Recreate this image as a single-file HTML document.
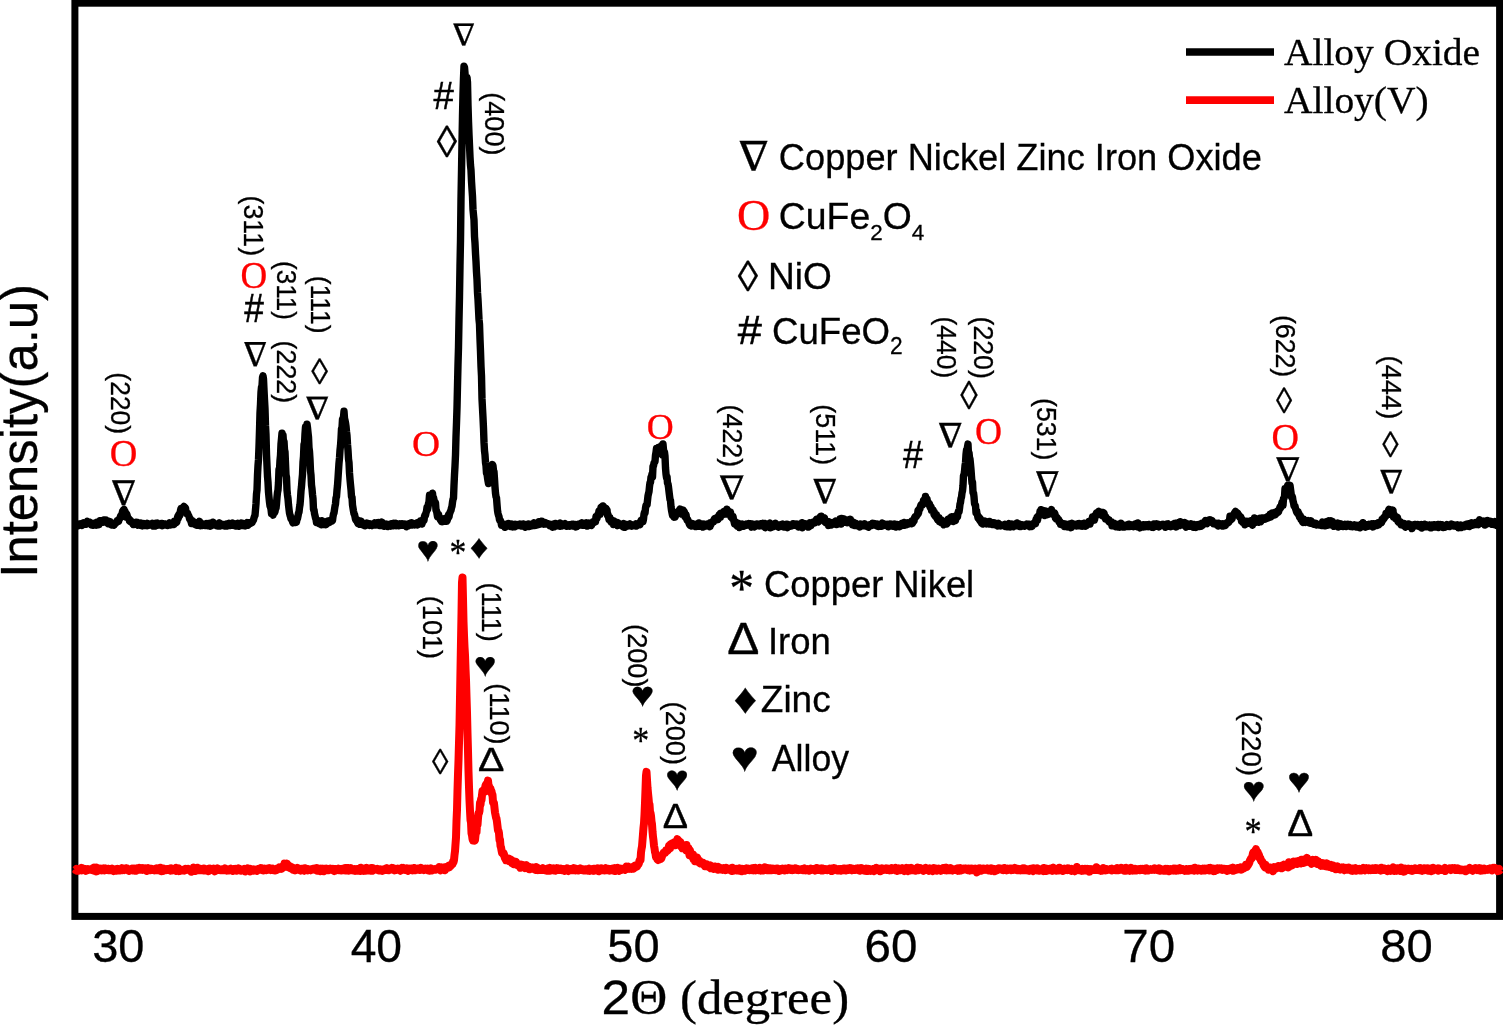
<!DOCTYPE html>
<html lang="en"><head><meta charset="utf-8"><title>XRD patterns</title>
<style>html,body{margin:0;padding:0;background:#fff;overflow:hidden}svg{display:block}</style></head>
<body>
<svg width="1503" height="1026" viewBox="0 0 1503 1026" style="display:block">
<rect width="1503" height="1026" fill="#fff"/>
<rect x="74.9" y="3.2" width="1424.7" height="913.2" fill="none" stroke="#000" stroke-width="7"/>
<path d="M74.5,524.7 75.0,525.0 75.5,524.5 76.0,523.9 76.5,524.3 77.0,523.8 77.5,524.8 78.0,525.9 78.5,524.3 79.0,524.1 79.5,525.1 80.0,525.0 80.5,524.8 81.0,523.9 81.5,524.7 82.0,525.3 82.5,523.4 83.0,524.2 83.5,522.8 84.0,523.3 84.5,522.8 85.0,524.1 85.5,523.0 86.0,524.3 86.5,524.1 87.0,523.6 87.5,521.3 88.0,523.1 88.5,523.5 89.0,523.6 89.5,522.0 90.0,523.1 90.5,522.7 91.0,523.0 91.5,524.9 92.0,523.3 92.5,524.1 93.0,525.1 93.5,523.7 94.0,524.2 94.5,524.4 95.0,524.3 95.5,523.0 96.0,524.1 96.5,525.2 97.0,522.2 97.5,524.3 98.0,523.3 98.5,522.3 99.0,524.7 99.5,523.1 100.0,520.7 100.5,521.8 101.0,522.0 101.5,520.9 102.0,521.6 102.5,520.7 103.0,521.4 103.5,522.2 104.0,519.9 104.5,520.9 105.0,520.3 105.5,521.2 106.0,520.0 106.5,521.0 107.0,521.7 107.5,523.1 108.0,523.6 108.5,521.4 109.0,522.2 109.5,523.9 110.0,521.5 110.5,523.2 111.0,523.7 111.5,525.0 112.0,524.5 112.5,523.6 113.0,523.5 113.5,523.6 114.0,525.2 114.5,523.2 115.0,523.1 115.5,523.5 116.0,522.7 116.5,522.3 117.0,520.9 117.5,521.5 118.0,520.4 118.5,521.5 119.0,520.1 119.5,518.5 120.0,518.4 120.5,516.2 121.0,517.1 121.5,514.8 122.0,514.8 122.5,511.5 123.0,513.2 123.5,509.9 124.0,509.3 124.5,511.9 125.0,511.4 125.5,513.5 126.0,517.1 126.5,513.7 127.0,514.9 127.5,516.9 128.0,518.2 128.5,518.3 129.0,519.1 129.5,520.9 130.0,521.4 130.5,520.4 131.0,521.9 131.5,522.5 132.0,521.8 132.5,523.4 133.0,522.6 133.5,524.6 134.0,524.0 134.5,524.0 135.0,523.5 135.5,524.0 136.0,522.3 136.5,523.2 137.0,524.6 137.5,522.4 138.0,525.2 138.5,522.8 139.0,525.1 139.5,523.7 140.0,525.2 140.5,524.6 141.0,523.1 141.5,525.6 142.0,525.8 142.5,524.5 143.0,524.3 143.5,524.4 144.0,523.6 144.5,525.6 145.0,524.1 145.5,524.5 146.0,523.8 146.5,524.0 147.0,523.4 147.5,525.7 148.0,524.4 148.5,525.5 149.0,524.6 149.5,524.0 150.0,524.3 150.5,524.1 151.0,524.6 151.5,524.2 152.0,524.3 152.5,523.3 153.0,523.9 153.5,526.1 154.0,524.0 154.5,523.6 155.0,524.9 155.5,525.9 156.0,523.2 156.5,524.4 157.0,524.0 157.5,523.0 158.0,525.2 158.5,524.5 159.0,524.6 159.5,523.9 160.0,525.0 160.5,524.0 161.0,524.4 161.5,523.5 162.0,523.4 162.5,525.7 163.0,524.0 163.5,524.7 164.0,524.4 164.5,524.0 165.0,524.0 165.5,525.0 166.0,524.1 166.5,524.2 167.0,524.4 167.5,525.4 168.0,524.9 168.5,524.6 169.0,523.7 169.5,522.9 170.0,525.0 170.5,525.0 171.0,523.8 171.5,524.4 172.0,524.5 172.5,524.4 173.0,524.3 173.5,522.7 174.0,524.4 174.5,521.3 175.0,523.0 175.5,522.2 176.0,522.0 176.5,522.5 177.0,521.4 177.5,517.5 178.0,515.9 178.5,518.0 179.0,514.6 179.5,514.9 180.0,515.0 180.5,510.4 181.0,508.6 181.5,511.2 182.0,510.1 182.5,509.0 183.0,509.0 183.5,507.4 184.0,506.5 184.5,508.9 185.0,508.2 185.5,508.0 186.0,512.1 186.5,512.2 187.0,513.9 187.5,513.1 188.0,514.7 188.5,515.3 189.0,516.5 189.5,518.7 190.0,518.4 190.5,520.5 191.0,521.2 191.5,523.6 192.0,520.5 192.5,523.3 193.0,522.7 193.5,523.0 194.0,521.9 194.5,523.1 195.0,524.4 195.5,523.8 196.0,524.0 196.5,523.8 197.0,525.2 197.5,524.2 198.0,522.2 198.5,523.6 199.0,522.5 199.5,521.3 200.0,523.9 200.5,525.6 201.0,524.4 201.5,523.3 202.0,523.6 202.5,525.5 203.0,524.6 203.5,524.5 204.0,524.4 204.5,524.5 205.0,525.3 205.5,525.0 206.0,524.7 206.5,523.6 207.0,525.0 207.5,523.9 208.0,525.6 208.5,523.4 209.0,524.4 209.5,524.6 210.0,523.4 210.5,526.2 211.0,525.9 211.5,524.2 212.0,525.3 212.5,524.9 213.0,522.2 213.5,524.8 214.0,524.6 214.5,524.7 215.0,523.6 215.5,524.4 216.0,524.5 216.5,525.7 217.0,524.9 217.5,524.6 218.0,526.0 218.5,524.1 219.0,524.3 219.5,522.9 220.0,526.1 220.5,525.5 221.0,525.5 221.5,525.2 222.0,524.7 222.5,524.8 223.0,524.4 223.5,524.4 224.0,524.7 224.5,526.0 225.0,525.1 225.5,524.5 226.0,524.1 226.5,524.0 227.0,526.1 227.5,525.0 228.0,524.6 228.5,524.2 229.0,523.5 229.5,524.5 230.0,525.4 230.5,524.2 231.0,524.3 231.5,524.3 232.0,524.6 232.5,523.0 233.0,524.3 233.5,523.7 234.0,525.3 234.5,523.8 235.0,525.0 235.5,525.9 236.0,524.2 236.5,523.9 237.0,524.6 237.5,524.4 238.0,523.5 238.5,524.8 239.0,526.2 239.5,524.1 240.0,524.1 240.5,523.3 241.0,524.6 241.5,523.1 242.0,523.2 242.5,525.4 243.0,523.3 243.5,525.2 244.0,525.6 244.5,524.3 245.0,524.6 245.5,525.9 246.0,523.8 246.5,523.3 247.0,522.6 247.5,523.8 248.0,525.2 248.5,524.6 249.0,522.7 249.5,522.6 250.0,522.9 250.5,523.5 251.0,522.8 251.5,522.9 252.0,522.6 252.5,521.3 253.0,520.8 253.5,519.9 254.0,517.9 254.5,516.4 255.0,515.4 255.5,509.6 256.0,503.7 256.5,493.9 257.0,490.1 257.5,475.4 258.0,465.6 258.5,459.5 259.0,446.3 259.5,430.5 260.0,412.7 260.5,404.1 261.0,392.2 261.5,387.2 262.0,386.0 262.5,377.6 263.0,375.8 263.5,379.1 264.0,389.9 264.5,399.6 265.0,408.6 265.5,425.2 266.0,434.7 266.5,454.1 267.0,465.7 267.5,476.4 268.0,482.2 268.5,492.2 269.0,497.3 269.5,502.0 270.0,505.9 270.5,507.2 271.0,509.0 271.5,513.6 272.0,513.0 272.5,514.0 273.0,515.2 273.5,511.2 274.0,512.0 274.5,512.6 275.0,511.6 275.5,508.7 276.0,508.4 276.5,503.8 277.0,497.1 277.5,492.4 278.0,490.0 278.5,482.6 279.0,469.5 279.5,469.9 280.0,460.3 280.5,455.3 281.0,443.8 281.5,439.0 282.0,433.1 282.5,442.3 283.0,435.1 283.5,443.0 284.0,441.2 284.5,449.7 285.0,451.8 285.5,463.3 286.0,474.8 286.5,477.4 287.0,490.1 287.5,495.2 288.0,498.6 288.5,504.8 289.0,509.1 289.5,513.1 290.0,515.1 290.5,516.8 291.0,519.0 291.5,519.3 292.0,519.8 292.5,521.6 293.0,522.9 293.5,520.6 294.0,522.2 294.5,521.5 295.0,520.9 295.5,522.5 296.0,520.5 296.5,522.1 297.0,518.5 297.5,518.6 298.0,516.1 298.5,513.1 299.0,512.2 299.5,507.6 300.0,504.7 300.5,498.7 301.0,490.9 301.5,486.5 302.0,479.8 302.5,474.7 303.0,462.2 303.5,456.7 304.0,444.5 304.5,444.5 305.0,433.7 305.5,427.0 306.0,429.0 306.5,431.1 307.0,424.1 307.5,427.7 308.0,432.7 308.5,436.9 309.0,447.8 309.5,451.6 310.0,459.6 310.5,470.8 311.0,475.1 311.5,485.1 312.0,488.7 312.5,494.4 313.0,498.7 313.5,509.5 314.0,509.7 314.5,513.6 315.0,515.7 315.5,517.9 316.0,519.3 316.5,522.5 317.0,520.1 317.5,520.2 318.0,521.3 318.5,521.3 319.0,523.6 319.5,523.9 320.0,522.2 320.5,521.9 321.0,523.0 321.5,524.7 322.0,520.6 322.5,523.9 323.0,522.4 323.5,524.4 324.0,522.3 324.5,523.1 325.0,521.9 325.5,522.4 326.0,524.7 326.5,524.1 327.0,522.8 327.5,522.2 328.0,521.1 328.5,522.4 329.0,522.6 329.5,522.3 330.0,521.9 330.5,520.4 331.0,520.9 331.5,520.2 332.0,520.9 332.5,520.5 333.0,516.6 333.5,514.0 334.0,512.9 334.5,509.5 335.0,506.3 335.5,503.9 336.0,498.1 336.5,496.7 337.0,490.2 337.5,485.4 338.0,478.3 338.5,470.5 339.0,463.1 339.5,458.0 340.0,450.2 340.5,445.7 341.0,438.5 341.5,428.7 342.0,427.6 342.5,419.3 343.0,418.2 343.5,417.1 344.0,411.3 344.5,418.2 345.0,420.4 345.5,422.7 346.0,426.2 346.5,431.6 347.0,435.8 347.5,444.3 348.0,450.3 348.5,459.0 349.0,462.5 349.5,473.0 350.0,479.2 350.5,484.6 351.0,489.6 351.5,496.7 352.0,497.1 352.5,505.0 353.0,508.1 353.5,511.1 354.0,513.7 354.5,514.4 355.0,516.7 355.5,519.2 356.0,520.1 356.5,520.8 357.0,519.6 357.5,522.4 358.0,523.5 358.5,523.7 359.0,523.2 359.5,521.6 360.0,524.3 360.5,523.4 361.0,521.1 361.5,524.1 362.0,522.3 362.5,522.6 363.0,523.3 363.5,525.2 364.0,523.7 364.5,524.3 365.0,525.8 365.5,525.7 366.0,524.1 366.5,524.0 367.0,523.0 367.5,523.6 368.0,524.7 368.5,524.7 369.0,524.4 369.5,525.3 370.0,523.7 370.5,524.4 371.0,525.1 371.5,525.0 372.0,525.5 372.5,524.8 373.0,524.2 373.5,524.8 374.0,523.6 374.5,523.0 375.0,525.1 375.5,524.5 376.0,524.8 376.5,523.0 377.0,524.2 377.5,524.0 378.0,523.8 378.5,522.5 379.0,524.3 379.5,525.5 380.0,525.0 380.5,524.1 381.0,524.6 381.5,525.4 382.0,522.1 382.5,524.5 383.0,525.2 383.5,525.3 384.0,526.2 384.5,525.7 385.0,525.0 385.5,525.0 386.0,525.4 386.5,524.2 387.0,524.7 387.5,525.5 388.0,526.5 388.5,524.6 389.0,524.7 389.5,524.9 390.0,526.0 390.5,524.7 391.0,526.1 391.5,523.8 392.0,524.5 392.5,524.5 393.0,525.4 393.5,525.7 394.0,523.3 394.5,523.9 395.0,525.0 395.5,524.1 396.0,523.3 396.5,525.7 397.0,525.2 397.5,525.2 398.0,524.3 398.5,525.6 399.0,524.5 399.5,525.7 400.0,523.8 400.5,523.9 401.0,524.9 401.5,524.0 402.0,525.3 402.5,524.9 403.0,523.8 403.5,524.7 404.0,524.3 404.5,525.5 405.0,524.0 405.5,524.2 406.0,525.7 406.5,526.7 407.0,526.4 407.5,524.6 408.0,524.7 408.5,525.9 409.0,524.4 409.5,523.6 410.0,524.6 410.5,524.9 411.0,523.6 411.5,522.8 412.0,523.0 412.5,525.0 413.0,523.6 413.5,524.1 414.0,524.4 414.5,524.8 415.0,523.8 415.5,524.6 416.0,523.2 416.5,523.6 417.0,522.9 417.5,524.9 418.0,523.6 418.5,522.8 419.0,523.0 419.5,522.9 420.0,523.6 420.5,520.9 421.0,521.1 421.5,521.4 422.0,524.0 422.5,521.6 423.0,519.7 423.5,519.7 424.0,520.4 424.5,516.3 425.0,514.8 425.5,515.4 426.0,512.8 426.5,511.3 427.0,507.6 427.5,509.6 428.0,507.4 428.5,503.5 429.0,501.9 429.5,495.2 430.0,498.8 430.5,496.1 431.0,496.6 431.5,496.9 432.0,495.1 432.5,493.2 433.0,498.3 433.5,497.6 434.0,500.1 434.5,501.5 435.0,503.9 435.5,502.7 436.0,510.3 436.5,510.7 437.0,513.7 437.5,516.5 438.0,515.3 438.5,514.3 439.0,516.7 439.5,517.3 440.0,518.9 440.5,520.2 441.0,518.4 441.5,521.4 442.0,519.6 442.5,521.7 443.0,521.3 443.5,521.0 444.0,521.1 444.5,520.3 445.0,519.9 445.5,518.2 446.0,519.7 446.5,521.3 447.0,520.9 447.5,519.3 448.0,517.7 448.5,514.9 449.0,516.8 449.5,513.7 450.0,512.6 450.5,511.1 451.0,510.3 451.5,507.8 452.0,506.3 452.5,502.2 453.0,499.3 453.5,498.2 454.0,485.1 454.5,474.9 455.0,466.0 455.5,455.2 456.0,436.7 456.5,423.1 457.0,407.8 457.5,385.9 458.0,364.5 458.5,347.3 459.0,319.6 459.5,296.6 460.0,266.0 460.5,240.7 461.0,198.7 461.5,172.0 462.0,142.2 462.5,116.4 463.0,94.0 463.5,78.1 464.0,66.1 464.5,67.3 465.0,73.1 465.5,80.1 466.0,82.7 466.5,80.0 467.0,77.5 467.5,82.4 468.0,105.4 468.5,121.3 469.0,134.5 469.5,145.4 470.0,156.8 470.5,165.2 471.0,170.1 471.5,181.1 472.0,189.0 472.5,196.4 473.0,209.5 473.5,214.8 474.0,219.8 474.5,236.5 475.0,243.1 475.5,253.4 476.0,261.6 476.5,272.2 477.0,279.6 477.5,292.4 478.0,299.6 478.5,309.2 479.0,319.3 479.5,324.2 480.0,339.1 480.5,351.4 481.0,366.3 481.5,376.0 482.0,398.9 482.5,408.4 483.0,417.8 483.5,428.2 484.0,442.4 484.5,450.8 485.0,454.9 485.5,462.6 486.0,465.8 486.5,473.3 487.0,473.7 487.5,477.6 488.0,480.9 488.5,483.6 489.0,472.7 489.5,471.3 490.0,468.5 490.5,471.5 491.0,465.7 491.5,466.6 492.0,467.2 492.5,464.6 493.0,465.9 493.5,470.6 494.0,471.7 494.5,479.0 495.0,487.0 495.5,493.2 496.0,496.6 496.5,497.8 497.0,504.4 497.5,510.3 498.0,513.4 498.5,515.4 499.0,516.5 499.5,519.9 500.0,520.0 500.5,520.7 501.0,522.1 501.5,525.1 502.0,524.3 502.5,525.4 503.0,524.1 503.5,525.6 504.0,524.3 504.5,524.8 505.0,527.3 505.5,525.8 506.0,524.7 506.5,525.0 507.0,525.4 507.5,526.2 508.0,524.7 508.5,523.5 509.0,524.9 509.5,525.1 510.0,525.2 510.5,526.3 511.0,525.4 511.5,525.9 512.0,524.1 512.5,525.9 513.0,527.0 513.5,525.8 514.0,525.4 514.5,525.3 515.0,526.8 515.5,524.3 516.0,525.0 516.5,525.6 517.0,525.8 517.5,524.7 518.0,525.4 518.5,524.9 519.0,525.3 519.5,525.0 520.0,524.1 520.5,525.1 521.0,525.9 521.5,524.3 522.0,524.9 522.5,525.8 523.0,524.2 523.5,525.3 524.0,524.2 524.5,526.2 525.0,527.2 525.5,527.0 526.0,525.0 526.5,525.8 527.0,525.3 527.5,525.2 528.0,526.5 528.5,523.9 529.0,526.1 529.5,525.1 530.0,526.4 530.5,525.3 531.0,524.5 531.5,525.3 532.0,525.7 532.5,525.0 533.0,525.3 533.5,524.3 534.0,522.8 534.5,525.5 535.0,525.2 535.5,524.5 536.0,524.3 536.5,525.1 537.0,523.5 537.5,523.0 538.0,523.4 538.5,524.6 539.0,521.8 539.5,524.3 540.0,522.3 540.5,521.7 541.0,524.0 541.5,522.6 542.0,521.3 542.5,522.3 543.0,523.7 543.5,524.0 544.0,522.5 544.5,523.5 545.0,523.9 545.5,522.7 546.0,523.9 546.5,523.7 547.0,523.4 547.5,523.6 548.0,524.3 548.5,524.4 549.0,524.0 549.5,524.2 550.0,525.8 550.5,525.0 551.0,525.7 551.5,526.1 552.0,525.5 552.5,527.1 553.0,524.3 553.5,525.8 554.0,524.8 554.5,526.8 555.0,526.7 555.5,523.4 556.0,524.3 556.5,525.7 557.0,525.9 557.5,525.8 558.0,525.1 558.5,525.6 559.0,525.7 559.5,525.1 560.0,526.1 560.5,523.1 561.0,525.7 561.5,524.2 562.0,526.0 562.5,524.9 563.0,524.3 563.5,525.5 564.0,524.3 564.5,524.3 565.0,523.7 565.5,525.1 566.0,525.6 566.5,526.1 567.0,525.0 567.5,526.1 568.0,525.1 568.5,525.0 569.0,525.6 569.5,526.1 570.0,524.8 570.5,524.9 571.0,524.9 571.5,525.2 572.0,524.3 572.5,526.0 573.0,524.7 573.5,525.5 574.0,524.3 574.5,525.4 575.0,525.4 575.5,524.7 576.0,526.9 576.5,525.4 577.0,526.6 577.5,525.9 578.0,524.4 578.5,524.6 579.0,525.4 579.5,525.0 580.0,525.0 580.5,524.7 581.0,523.3 581.5,524.7 582.0,522.9 582.5,525.2 583.0,524.2 583.5,524.2 584.0,524.6 584.5,525.1 585.0,523.5 585.5,523.1 586.0,523.7 586.5,522.8 587.0,523.8 587.5,526.1 588.0,523.6 588.5,525.1 589.0,523.1 589.5,524.6 590.0,523.9 590.5,524.0 591.0,524.4 591.5,525.4 592.0,523.6 592.5,523.2 593.0,521.7 593.5,522.9 594.0,521.6 594.5,522.2 595.0,520.6 595.5,521.9 596.0,516.7 596.5,517.9 597.0,518.4 597.5,515.8 598.0,514.1 598.5,513.8 599.0,511.0 599.5,512.1 600.0,514.5 600.5,511.7 601.0,507.3 601.5,506.9 602.0,507.1 602.5,509.0 603.0,505.9 603.5,506.3 604.0,509.2 604.5,509.7 605.0,508.4 605.5,508.2 606.0,508.5 606.5,510.9 607.0,509.8 607.5,515.2 608.0,514.4 608.5,516.9 609.0,519.7 609.5,519.7 610.0,517.7 610.5,520.9 611.0,522.0 611.5,520.5 612.0,520.8 612.5,522.2 613.0,521.1 613.5,524.6 614.0,521.0 614.5,522.6 615.0,523.6 615.5,523.8 616.0,524.4 616.5,524.6 617.0,524.2 617.5,525.6 618.0,522.6 618.5,524.6 619.0,524.0 619.5,524.9 620.0,525.0 620.5,524.0 621.0,524.2 621.5,525.6 622.0,525.2 622.5,524.3 623.0,526.8 623.5,527.1 624.0,523.6 624.5,525.3 625.0,527.3 625.5,525.7 626.0,525.2 626.5,524.8 627.0,524.5 627.5,524.9 628.0,524.6 628.5,525.8 629.0,524.7 629.5,524.7 630.0,524.0 630.5,525.1 631.0,524.3 631.5,525.0 632.0,526.1 632.5,525.5 633.0,525.6 633.5,525.5 634.0,525.2 634.5,525.0 635.0,524.8 635.5,525.7 636.0,523.9 636.5,526.1 637.0,524.7 637.5,523.8 638.0,523.9 638.5,523.5 639.0,524.2 639.5,523.1 640.0,524.7 640.5,522.5 641.0,520.5 641.5,521.7 642.0,519.8 642.5,521.3 643.0,521.4 643.5,519.1 644.0,514.1 644.5,512.1 645.0,513.1 645.5,508.2 646.0,505.3 646.5,504.8 647.0,505.0 647.5,500.5 648.0,495.8 648.5,493.7 649.0,491.7 649.5,486.5 650.0,482.7 650.5,482.3 651.0,477.2 651.5,476.4 652.0,474.0 652.5,477.0 653.0,466.4 653.5,465.8 654.0,463.1 654.5,462.2 655.0,461.5 655.5,455.1 656.0,452.4 656.5,448.5 657.0,449.2 657.5,452.3 658.0,450.4 658.5,447.5 659.0,449.6 659.5,451.0 660.0,452.6 660.5,449.6 661.0,450.5 661.5,445.7 662.0,447.3 662.5,455.1 663.0,444.0 663.5,449.7 664.0,452.4 664.5,452.3 665.0,456.3 665.5,467.9 666.0,474.0 666.5,477.6 667.0,476.5 667.5,483.1 668.0,483.9 668.5,487.1 669.0,491.5 669.5,495.5 670.0,499.5 670.5,500.6 671.0,506.6 671.5,510.3 672.0,512.9 672.5,515.3 673.0,514.4 673.5,515.2 674.0,517.2 674.5,514.8 675.0,517.1 675.5,515.8 676.0,515.2 676.5,512.3 677.0,512.4 677.5,512.8 678.0,513.4 678.5,512.8 679.0,510.5 679.5,510.0 680.0,509.1 680.5,511.1 681.0,510.4 681.5,512.0 682.0,514.1 682.5,511.8 683.0,510.0 683.5,511.5 684.0,511.3 684.5,512.4 685.0,516.6 685.5,515.8 686.0,514.4 686.5,518.2 687.0,520.1 687.5,519.3 688.0,520.1 688.5,521.6 689.0,523.3 689.5,524.4 690.0,525.3 690.5,525.6 691.0,525.7 691.5,526.0 692.0,525.5 692.5,523.6 693.0,525.0 693.5,525.5 694.0,524.9 694.5,526.1 695.0,525.0 695.5,524.5 696.0,526.6 696.5,525.9 697.0,525.5 697.5,526.1 698.0,526.3 698.5,525.6 699.0,523.0 699.5,524.7 700.0,524.9 700.5,524.4 701.0,525.5 701.5,526.4 702.0,524.8 702.5,524.2 703.0,527.1 703.5,524.8 704.0,524.1 704.5,525.4 705.0,525.6 705.5,524.5 706.0,525.9 706.5,524.6 707.0,524.2 707.5,525.1 708.0,525.5 708.5,524.1 709.0,524.8 709.5,524.1 710.0,526.7 710.5,522.8 711.0,524.5 711.5,522.5 712.0,521.9 712.5,522.3 713.0,521.9 713.5,521.8 714.0,520.2 714.5,518.6 715.0,518.3 715.5,519.2 716.0,519.0 716.5,519.8 717.0,518.4 717.5,519.0 718.0,519.4 718.5,517.4 719.0,514.9 719.5,514.8 720.0,513.8 720.5,517.3 721.0,513.3 721.5,515.5 722.0,513.9 722.5,515.0 723.0,513.5 723.5,511.6 724.0,511.3 724.5,511.7 725.0,511.8 725.5,510.8 726.0,511.6 726.5,514.1 727.0,509.2 727.5,512.1 728.0,510.5 728.5,512.3 729.0,513.6 729.5,512.8 730.0,514.6 730.5,512.1 731.0,516.8 731.5,515.5 732.0,518.1 732.5,518.6 733.0,516.3 733.5,519.5 734.0,521.4 734.5,523.6 735.0,522.9 735.5,523.4 736.0,522.2 736.5,525.4 737.0,526.0 737.5,524.5 738.0,524.4 738.5,523.3 739.0,525.7 739.5,527.5 740.0,525.7 740.5,526.2 741.0,525.6 741.5,524.2 742.0,526.4 742.5,524.0 743.0,525.0 743.5,525.4 744.0,526.0 744.5,525.6 745.0,525.6 745.5,524.5 746.0,524.1 746.5,525.3 747.0,524.6 747.5,524.1 748.0,524.1 748.5,524.8 749.0,523.6 749.5,524.1 750.0,523.8 750.5,525.5 751.0,525.7 751.5,527.1 752.0,523.9 752.5,524.7 753.0,526.1 753.5,525.1 754.0,525.0 754.5,526.9 755.0,525.0 755.5,524.3 756.0,524.1 756.5,525.6 757.0,525.6 757.5,524.1 758.0,524.4 758.5,525.8 759.0,525.9 759.5,524.8 760.0,525.9 760.5,525.9 761.0,523.7 761.5,525.1 762.0,525.7 762.5,524.8 763.0,523.4 763.5,525.1 764.0,526.0 764.5,526.8 765.0,523.4 765.5,527.7 766.0,524.3 766.5,526.2 767.0,526.5 767.5,526.3 768.0,525.5 768.5,524.3 769.0,525.9 769.5,524.7 770.0,523.1 770.5,527.9 771.0,526.0 771.5,527.0 772.0,524.5 772.5,526.7 773.0,526.8 773.5,526.8 774.0,525.4 774.5,524.3 775.0,525.2 775.5,523.4 776.0,523.8 776.5,525.5 777.0,524.5 777.5,525.2 778.0,525.3 778.5,527.1 779.0,526.6 779.5,525.3 780.0,526.5 780.5,524.7 781.0,525.1 781.5,526.2 782.0,524.2 782.5,525.1 783.0,524.2 783.5,525.5 784.0,526.9 784.5,524.7 785.0,525.6 785.5,524.6 786.0,524.3 786.5,524.2 787.0,526.7 787.5,527.5 788.0,525.8 788.5,524.7 789.0,526.0 789.5,525.1 790.0,526.1 790.5,525.6 791.0,525.6 791.5,525.9 792.0,524.8 792.5,525.0 793.0,523.8 793.5,524.9 794.0,524.0 794.5,525.2 795.0,524.5 795.5,525.4 796.0,525.7 796.5,524.0 797.0,524.6 797.5,524.4 798.0,526.0 798.5,526.9 799.0,526.1 799.5,525.0 800.0,526.6 800.5,523.9 801.0,526.6 801.5,524.7 802.0,522.7 802.5,527.7 803.0,526.7 803.5,524.3 804.0,525.4 804.5,525.0 805.0,525.3 805.5,523.8 806.0,524.5 806.5,525.5 807.0,525.3 807.5,526.1 808.0,525.0 808.5,527.1 809.0,524.1 809.5,525.0 810.0,522.8 810.5,523.3 811.0,525.6 811.5,523.2 812.0,524.4 812.5,523.6 813.0,522.3 813.5,522.7 814.0,522.2 814.5,521.8 815.0,522.7 815.5,522.2 816.0,520.3 816.5,519.4 817.0,520.3 817.5,519.4 818.0,520.3 818.5,521.9 819.0,519.3 819.5,517.8 820.0,517.4 820.5,516.4 821.0,516.3 821.5,516.2 822.0,517.1 822.5,517.3 823.0,519.1 823.5,518.1 824.0,518.7 824.5,518.0 825.0,521.8 825.5,520.9 826.0,522.8 826.5,522.1 827.0,523.3 827.5,521.8 828.0,523.1 828.5,525.5 829.0,521.7 829.5,524.4 830.0,525.0 830.5,523.9 831.0,524.3 831.5,524.8 832.0,522.9 832.5,523.9 833.0,522.6 833.5,522.7 834.0,522.6 834.5,523.0 835.0,523.1 835.5,523.3 836.0,521.1 836.5,524.6 837.0,523.5 837.5,522.8 838.0,521.4 838.5,521.5 839.0,522.0 839.5,521.7 840.0,519.1 840.5,521.7 841.0,524.1 841.5,518.4 842.0,521.7 842.5,520.8 843.0,520.2 843.5,521.9 844.0,518.9 844.5,520.5 845.0,522.1 845.5,520.2 846.0,520.0 846.5,520.8 847.0,520.3 847.5,522.7 848.0,520.1 848.5,522.3 849.0,520.1 849.5,522.5 850.0,521.8 850.5,519.3 851.0,522.4 851.5,521.5 852.0,522.4 852.5,524.7 853.0,522.1 853.5,522.3 854.0,525.1 854.5,523.9 855.0,525.5 855.5,524.5 856.0,523.4 856.5,524.3 857.0,525.7 857.5,525.6 858.0,524.7 858.5,524.9 859.0,524.8 859.5,524.4 860.0,526.9 860.5,525.1 861.0,524.0 861.5,524.7 862.0,525.9 862.5,525.8 863.0,525.1 863.5,524.6 864.0,525.3 864.5,523.7 865.0,524.1 865.5,526.0 866.0,524.8 866.5,525.7 867.0,526.4 867.5,525.9 868.0,525.3 868.5,527.3 869.0,525.9 869.5,525.0 870.0,526.0 870.5,525.7 871.0,524.5 871.5,525.4 872.0,525.1 872.5,523.4 873.0,525.1 873.5,525.0 874.0,524.9 874.5,523.7 875.0,524.9 875.5,525.2 876.0,525.4 876.5,524.2 877.0,525.9 877.5,524.1 878.0,525.0 878.5,526.5 879.0,524.6 879.5,524.8 880.0,526.3 880.5,524.9 881.0,524.9 881.5,525.4 882.0,526.2 882.5,523.1 883.0,524.4 883.5,524.2 884.0,524.2 884.5,524.4 885.0,524.4 885.5,525.5 886.0,524.3 886.5,525.3 887.0,525.5 887.5,524.4 888.0,525.3 888.5,526.7 889.0,525.4 889.5,524.5 890.0,525.0 890.5,524.2 891.0,525.3 891.5,525.9 892.0,524.3 892.5,524.8 893.0,526.1 893.5,524.5 894.0,525.2 894.5,524.0 895.0,524.2 895.5,524.5 896.0,527.0 896.5,524.5 897.0,524.4 897.5,524.4 898.0,524.7 898.5,525.5 899.0,525.0 899.5,526.8 900.0,525.0 900.5,526.1 901.0,525.0 901.5,525.3 902.0,523.3 902.5,524.5 903.0,524.5 903.5,524.3 904.0,522.4 904.5,525.3 905.0,524.0 905.5,523.9 906.0,524.0 906.5,524.0 907.0,524.5 907.5,522.7 908.0,523.0 908.5,524.0 909.0,523.7 909.5,523.0 910.0,522.6 910.5,522.1 911.0,522.6 911.5,523.6 912.0,520.9 912.5,523.3 913.0,522.2 913.5,520.2 914.0,521.1 914.5,517.8 915.0,516.8 915.5,516.6 916.0,516.9 916.5,516.2 917.0,515.0 917.5,514.9 918.0,510.7 918.5,513.4 919.0,509.5 919.5,509.5 920.0,508.7 920.5,506.4 921.0,504.8 921.5,504.3 922.0,504.9 922.5,504.9 923.0,504.0 923.5,500.4 924.0,500.0 924.5,499.2 925.0,501.2 925.5,496.4 926.0,502.3 926.5,499.2 927.0,498.9 927.5,501.4 928.0,503.2 928.5,502.6 929.0,504.7 929.5,503.9 930.0,506.8 930.5,507.8 931.0,506.6 931.5,510.2 932.0,509.3 932.5,510.3 933.0,509.8 933.5,511.8 934.0,514.4 934.5,512.4 935.0,516.0 935.5,516.5 936.0,517.2 936.5,514.7 937.0,518.1 937.5,519.6 938.0,518.5 938.5,520.0 939.0,517.6 939.5,521.5 940.0,520.3 940.5,522.3 941.0,519.6 941.5,522.6 942.0,521.8 942.5,523.0 943.0,521.3 943.5,521.7 944.0,524.8 944.5,521.5 945.0,521.7 945.5,522.1 946.0,521.2 946.5,523.4 947.0,523.8 947.5,520.8 948.0,519.2 948.5,522.0 949.0,521.5 949.5,520.6 950.0,520.6 950.5,517.7 951.0,518.3 951.5,516.7 952.0,516.7 952.5,519.8 953.0,517.9 953.5,521.6 954.0,519.0 954.5,518.0 955.0,519.6 955.5,520.5 956.0,518.3 956.5,515.4 957.0,516.6 957.5,516.9 958.0,513.0 958.5,511.1 959.0,512.0 959.5,508.5 960.0,504.1 960.5,502.5 961.0,498.6 961.5,497.1 962.0,492.9 962.5,490.9 963.0,485.6 963.5,475.5 964.0,475.3 964.5,471.6 965.0,465.7 965.5,462.8 966.0,454.5 966.5,450.2 967.0,453.5 967.5,446.9 968.0,444.1 968.5,454.9 969.0,452.7 969.5,457.6 970.0,459.0 970.5,464.0 971.0,469.5 971.5,476.5 972.0,483.0 972.5,481.8 973.0,492.7 973.5,492.8 974.0,496.8 974.5,503.3 975.0,504.9 975.5,505.1 976.0,512.7 976.5,510.5 977.0,513.8 977.5,515.1 978.0,517.9 978.5,516.4 979.0,519.2 979.5,517.7 980.0,520.6 980.5,518.8 981.0,519.8 981.5,522.8 982.0,521.3 982.5,521.4 983.0,524.0 983.5,522.2 984.0,521.1 984.5,523.0 985.0,521.1 985.5,523.7 986.0,523.9 986.5,522.2 987.0,522.3 987.5,523.3 988.0,523.2 988.5,522.3 989.0,524.0 989.5,521.4 990.0,523.1 990.5,523.2 991.0,523.5 991.5,524.1 992.0,522.6 992.5,524.5 993.0,523.8 993.5,523.4 994.0,522.8 994.5,523.0 995.0,524.6 995.5,523.3 996.0,524.4 996.5,525.4 997.0,525.4 997.5,525.9 998.0,524.2 998.5,523.4 999.0,525.5 999.5,524.9 1000.0,525.7 1000.5,524.6 1001.0,525.8 1001.5,525.5 1002.0,525.4 1002.5,525.2 1003.0,525.1 1003.5,525.0 1004.0,525.0 1004.5,525.7 1005.0,524.3 1005.5,526.5 1006.0,524.8 1006.5,525.8 1007.0,524.8 1007.5,524.7 1008.0,526.8 1008.5,524.6 1009.0,523.7 1009.5,524.3 1010.0,524.7 1010.5,527.0 1011.0,525.2 1011.5,525.9 1012.0,524.1 1012.5,525.4 1013.0,525.7 1013.5,526.7 1014.0,524.4 1014.5,525.6 1015.0,525.3 1015.5,524.1 1016.0,525.1 1016.5,524.8 1017.0,522.9 1017.5,525.7 1018.0,525.6 1018.5,524.7 1019.0,523.8 1019.5,526.5 1020.0,525.4 1020.5,526.1 1021.0,526.4 1021.5,524.6 1022.0,525.9 1022.5,524.9 1023.0,525.0 1023.5,525.0 1024.0,525.1 1024.5,526.1 1025.0,525.2 1025.5,524.9 1026.0,524.8 1026.5,525.4 1027.0,524.2 1027.5,524.5 1028.0,524.9 1028.5,524.4 1029.0,524.8 1029.5,524.3 1030.0,526.7 1030.5,526.0 1031.0,525.1 1031.5,524.5 1032.0,526.5 1032.5,524.4 1033.0,523.8 1033.5,523.8 1034.0,523.4 1034.5,524.1 1035.0,522.0 1035.5,523.7 1036.0,519.6 1036.5,520.6 1037.0,517.6 1037.5,520.2 1038.0,516.4 1038.5,515.7 1039.0,516.1 1039.5,515.7 1040.0,511.4 1040.5,511.8 1041.0,509.7 1041.5,511.7 1042.0,511.2 1042.5,510.9 1043.0,510.6 1043.5,511.4 1044.0,511.3 1044.5,513.6 1045.0,515.5 1045.5,510.9 1046.0,513.7 1046.5,513.5 1047.0,514.8 1047.5,512.7 1048.0,513.6 1048.5,512.0 1049.0,514.2 1049.5,512.9 1050.0,512.2 1050.5,512.7 1051.0,511.5 1051.5,509.5 1052.0,512.7 1052.5,512.5 1053.0,512.2 1053.5,514.4 1054.0,515.3 1054.5,512.8 1055.0,514.1 1055.5,518.2 1056.0,518.9 1056.5,517.0 1057.0,517.3 1057.5,518.9 1058.0,519.8 1058.5,519.3 1059.0,521.8 1059.5,521.0 1060.0,521.6 1060.5,524.2 1061.0,523.0 1061.5,523.9 1062.0,524.8 1062.5,525.2 1063.0,524.2 1063.5,524.7 1064.0,524.0 1064.5,526.6 1065.0,525.6 1065.5,524.0 1066.0,525.1 1066.5,525.8 1067.0,525.6 1067.5,526.8 1068.0,526.4 1068.5,524.7 1069.0,525.1 1069.5,524.0 1070.0,525.4 1070.5,525.3 1071.0,527.7 1071.5,525.3 1072.0,523.3 1072.5,524.6 1073.0,525.3 1073.5,524.0 1074.0,524.4 1074.5,524.9 1075.0,525.5 1075.5,525.1 1076.0,524.4 1076.5,525.9 1077.0,524.7 1077.5,524.7 1078.0,523.9 1078.5,524.4 1079.0,525.8 1079.5,523.6 1080.0,525.1 1080.5,525.8 1081.0,524.7 1081.5,525.3 1082.0,524.0 1082.5,526.2 1083.0,526.0 1083.5,525.1 1084.0,523.2 1084.5,523.8 1085.0,525.6 1085.5,526.2 1086.0,524.7 1086.5,525.5 1087.0,523.5 1087.5,523.8 1088.0,523.7 1088.5,523.9 1089.0,521.6 1089.5,523.8 1090.0,523.9 1090.5,520.8 1091.0,520.1 1091.5,521.5 1092.0,519.8 1092.5,517.1 1093.0,520.3 1093.5,518.8 1094.0,517.3 1094.5,520.0 1095.0,516.7 1095.5,514.7 1096.0,515.2 1096.5,512.9 1097.0,512.6 1097.5,513.7 1098.0,511.8 1098.5,511.5 1099.0,514.4 1099.5,513.0 1100.0,512.9 1100.5,512.5 1101.0,512.6 1101.5,514.4 1102.0,512.6 1102.5,515.8 1103.0,512.4 1103.5,514.0 1104.0,513.2 1104.5,515.3 1105.0,517.2 1105.5,519.1 1106.0,517.1 1106.5,518.7 1107.0,518.9 1107.5,519.1 1108.0,519.2 1108.5,521.2 1109.0,519.7 1109.5,522.2 1110.0,522.5 1110.5,522.2 1111.0,522.2 1111.5,522.1 1112.0,525.7 1112.5,522.7 1113.0,525.8 1113.5,525.0 1114.0,524.2 1114.5,523.5 1115.0,525.8 1115.5,526.5 1116.0,524.1 1116.5,524.7 1117.0,526.1 1117.5,525.4 1118.0,527.0 1118.5,524.7 1119.0,525.7 1119.5,524.1 1120.0,527.2 1120.5,524.6 1121.0,523.3 1121.5,525.2 1122.0,525.2 1122.5,527.1 1123.0,525.1 1123.5,525.4 1124.0,526.0 1124.5,526.9 1125.0,525.4 1125.5,526.4 1126.0,525.9 1126.5,525.2 1127.0,525.5 1127.5,525.5 1128.0,524.6 1128.5,526.6 1129.0,524.2 1129.5,526.6 1130.0,526.4 1130.5,525.4 1131.0,524.8 1131.5,525.3 1132.0,526.0 1132.5,526.2 1133.0,525.8 1133.5,526.5 1134.0,525.0 1134.5,525.8 1135.0,524.1 1135.5,526.3 1136.0,525.7 1136.5,525.2 1137.0,526.6 1137.5,526.2 1138.0,523.0 1138.5,525.6 1139.0,524.3 1139.5,526.6 1140.0,527.9 1140.5,525.1 1141.0,525.7 1141.5,525.4 1142.0,525.9 1142.5,526.2 1143.0,526.8 1143.5,524.7 1144.0,527.0 1144.5,524.8 1145.0,525.9 1145.5,526.7 1146.0,526.3 1146.5,524.8 1147.0,525.0 1147.5,525.2 1148.0,525.6 1148.5,526.7 1149.0,524.4 1149.5,526.1 1150.0,526.2 1150.5,526.1 1151.0,526.1 1151.5,527.0 1152.0,526.1 1152.5,526.4 1153.0,526.1 1153.5,527.3 1154.0,523.9 1154.5,526.8 1155.0,525.4 1155.5,525.4 1156.0,524.7 1156.5,523.9 1157.0,525.3 1157.5,525.0 1158.0,526.1 1158.5,524.3 1159.0,526.9 1159.5,525.9 1160.0,525.4 1160.5,525.0 1161.0,524.9 1161.5,524.6 1162.0,525.1 1162.5,525.6 1163.0,525.5 1163.5,524.3 1164.0,525.4 1164.5,524.8 1165.0,525.8 1165.5,527.3 1166.0,526.2 1166.5,525.3 1167.0,524.1 1167.5,524.3 1168.0,524.0 1168.5,526.2 1169.0,524.9 1169.5,525.6 1170.0,524.9 1170.5,525.6 1171.0,526.7 1171.5,524.7 1172.0,525.0 1172.5,524.4 1173.0,525.9 1173.5,524.0 1174.0,523.8 1174.5,523.4 1175.0,523.3 1175.5,524.9 1176.0,526.9 1176.5,523.2 1177.0,525.0 1177.5,524.2 1178.0,522.7 1178.5,523.5 1179.0,523.4 1179.5,522.9 1180.0,525.6 1180.5,521.7 1181.0,524.0 1181.5,524.1 1182.0,523.2 1182.5,524.1 1183.0,524.9 1183.5,524.3 1184.0,524.7 1184.5,525.1 1185.0,522.6 1185.5,526.2 1186.0,527.0 1186.5,525.9 1187.0,526.0 1187.5,523.8 1188.0,525.1 1188.5,524.5 1189.0,524.8 1189.5,526.3 1190.0,524.7 1190.5,525.3 1191.0,523.7 1191.5,525.4 1192.0,525.6 1192.5,524.9 1193.0,524.9 1193.5,527.3 1194.0,524.4 1194.5,524.6 1195.0,524.8 1195.5,526.6 1196.0,527.4 1196.5,525.8 1197.0,524.8 1197.5,525.0 1198.0,526.3 1198.5,524.4 1199.0,526.6 1199.5,526.5 1200.0,525.1 1200.5,525.5 1201.0,525.4 1201.5,526.1 1202.0,523.3 1202.5,525.3 1203.0,523.4 1203.5,522.7 1204.0,523.3 1204.5,522.7 1205.0,521.5 1205.5,520.5 1206.0,520.9 1206.5,523.3 1207.0,523.6 1207.5,521.9 1208.0,522.4 1208.5,520.3 1209.0,520.8 1209.5,521.2 1210.0,519.8 1210.5,520.0 1211.0,521.4 1211.5,521.2 1212.0,520.6 1212.5,522.5 1213.0,522.1 1213.5,523.8 1214.0,523.0 1214.5,523.0 1215.0,523.7 1215.5,523.7 1216.0,523.4 1216.5,523.9 1217.0,525.2 1217.5,525.2 1218.0,525.9 1218.5,523.2 1219.0,524.5 1219.5,524.5 1220.0,525.1 1220.5,524.5 1221.0,524.5 1221.5,525.7 1222.0,525.1 1222.5,523.8 1223.0,526.1 1223.5,525.7 1224.0,524.1 1224.5,525.4 1225.0,523.7 1225.5,525.4 1226.0,523.9 1226.5,523.0 1227.0,523.2 1227.5,522.4 1228.0,523.0 1228.5,522.5 1229.0,521.8 1229.5,520.6 1230.0,516.2 1230.5,519.9 1231.0,516.7 1231.5,518.5 1232.0,518.8 1232.5,516.8 1233.0,515.1 1233.5,514.6 1234.0,514.0 1234.5,512.8 1235.0,512.3 1235.5,511.5 1236.0,514.5 1236.5,512.8 1237.0,514.4 1237.5,513.0 1238.0,514.0 1238.5,514.3 1239.0,515.9 1239.5,517.1 1240.0,517.1 1240.5,516.7 1241.0,517.3 1241.5,521.1 1242.0,519.3 1242.5,519.9 1243.0,522.5 1243.5,522.5 1244.0,522.2 1244.5,521.5 1245.0,524.8 1245.5,522.9 1246.0,523.2 1246.5,522.5 1247.0,521.2 1247.5,521.4 1248.0,523.2 1248.5,523.2 1249.0,522.5 1249.5,521.4 1250.0,521.1 1250.5,522.2 1251.0,520.9 1251.5,523.4 1252.0,523.5 1252.5,525.3 1253.0,523.0 1253.5,521.3 1254.0,520.9 1254.5,517.9 1255.0,520.9 1255.5,521.2 1256.0,522.4 1256.5,521.9 1257.0,521.7 1257.5,521.1 1258.0,521.5 1258.5,522.2 1259.0,519.1 1259.5,519.7 1260.0,518.4 1260.5,521.8 1261.0,521.3 1261.5,520.4 1262.0,517.9 1262.5,519.4 1263.0,518.7 1263.5,518.9 1264.0,518.4 1264.5,519.1 1265.0,517.7 1265.5,519.1 1266.0,518.1 1266.5,517.2 1267.0,517.3 1267.5,516.6 1268.0,518.1 1268.5,516.4 1269.0,517.0 1269.5,515.9 1270.0,514.2 1270.5,517.2 1271.0,514.3 1271.5,516.5 1272.0,515.9 1272.5,512.9 1273.0,513.6 1273.5,514.0 1274.0,513.3 1274.5,512.6 1275.0,515.0 1275.5,513.3 1276.0,513.9 1276.5,512.4 1277.0,513.1 1277.5,511.1 1278.0,511.6 1278.5,511.9 1279.0,510.4 1279.5,508.9 1280.0,507.0 1280.5,508.0 1281.0,507.1 1281.5,504.9 1282.0,502.6 1282.5,503.4 1283.0,505.4 1283.5,498.6 1284.0,498.1 1284.5,496.5 1285.0,488.8 1285.5,492.6 1286.0,489.3 1286.5,492.3 1287.0,487.6 1287.5,485.6 1288.0,486.2 1288.5,486.9 1289.0,485.5 1289.5,487.2 1290.0,485.3 1290.5,489.0 1291.0,492.7 1291.5,496.8 1292.0,496.1 1292.5,497.2 1293.0,500.9 1293.5,502.6 1294.0,505.7 1294.5,506.5 1295.0,506.2 1295.5,508.5 1296.0,509.9 1296.5,511.6 1297.0,512.7 1297.5,512.4 1298.0,511.6 1298.5,514.6 1299.0,513.6 1299.5,517.1 1300.0,517.7 1300.5,516.1 1301.0,519.5 1301.5,520.2 1302.0,519.6 1302.5,521.8 1303.0,522.3 1303.5,518.9 1304.0,521.8 1304.5,521.3 1305.0,521.5 1305.5,522.3 1306.0,520.6 1306.5,520.9 1307.0,520.8 1307.5,521.1 1308.0,521.9 1308.5,520.6 1309.0,521.2 1309.5,523.1 1310.0,522.5 1310.5,523.1 1311.0,520.8 1311.5,522.1 1312.0,522.5 1312.5,523.2 1313.0,522.6 1313.5,524.3 1314.0,523.4 1314.5,523.6 1315.0,523.6 1315.5,524.4 1316.0,523.3 1316.5,525.0 1317.0,524.4 1317.5,524.1 1318.0,524.1 1318.5,524.6 1319.0,525.1 1319.5,525.1 1320.0,524.6 1320.5,525.1 1321.0,524.3 1321.5,525.4 1322.0,524.1 1322.5,522.0 1323.0,525.4 1323.5,524.1 1324.0,522.7 1324.5,523.6 1325.0,522.8 1325.5,525.8 1326.0,524.0 1326.5,521.8 1327.0,523.9 1327.5,522.8 1328.0,525.2 1328.5,522.0 1329.0,520.7 1329.5,523.1 1330.0,522.7 1330.5,522.6 1331.0,520.9 1331.5,523.7 1332.0,525.1 1332.5,521.5 1333.0,524.8 1333.5,523.2 1334.0,526.3 1334.5,524.5 1335.0,524.0 1335.5,525.5 1336.0,525.0 1336.5,524.1 1337.0,525.4 1337.5,524.4 1338.0,523.2 1338.5,527.0 1339.0,524.8 1339.5,524.6 1340.0,525.5 1340.5,523.8 1341.0,524.0 1341.5,524.9 1342.0,524.9 1342.5,525.4 1343.0,526.4 1343.5,525.0 1344.0,525.9 1344.5,526.0 1345.0,524.4 1345.5,525.7 1346.0,524.6 1346.5,526.4 1347.0,525.9 1347.5,525.5 1348.0,524.2 1348.5,525.6 1349.0,524.8 1349.5,526.1 1350.0,525.4 1350.5,524.7 1351.0,526.4 1351.5,526.2 1352.0,525.0 1352.5,526.6 1353.0,525.2 1353.5,525.2 1354.0,525.6 1354.5,524.8 1355.0,525.1 1355.5,525.4 1356.0,527.0 1356.5,526.9 1357.0,525.3 1357.5,527.0 1358.0,525.5 1358.5,525.9 1359.0,526.4 1359.5,525.8 1360.0,527.8 1360.5,525.8 1361.0,524.4 1361.5,526.7 1362.0,525.1 1362.5,525.2 1363.0,522.7 1363.5,526.4 1364.0,526.3 1364.5,526.3 1365.0,526.4 1365.5,527.1 1366.0,525.4 1366.5,526.4 1367.0,524.8 1367.5,525.1 1368.0,526.4 1368.5,525.8 1369.0,524.2 1369.5,525.8 1370.0,525.2 1370.5,524.6 1371.0,525.8 1371.5,524.9 1372.0,523.8 1372.5,524.2 1373.0,526.9 1373.5,523.7 1374.0,525.3 1374.5,525.6 1375.0,525.6 1375.5,523.7 1376.0,524.5 1376.5,524.8 1377.0,525.3 1377.5,523.7 1378.0,522.9 1378.5,524.9 1379.0,524.7 1379.5,523.7 1380.0,522.3 1380.5,523.0 1381.0,522.2 1381.5,522.5 1382.0,519.6 1382.5,520.6 1383.0,519.6 1383.5,517.8 1384.0,518.7 1384.5,517.7 1385.0,516.4 1385.5,516.7 1386.0,513.4 1386.5,514.5 1387.0,514.5 1387.5,513.6 1388.0,514.1 1388.5,510.2 1389.0,509.3 1389.5,511.6 1390.0,511.7 1390.5,514.2 1391.0,512.0 1391.5,509.9 1392.0,512.8 1392.5,510.7 1393.0,510.4 1393.5,517.0 1394.0,514.3 1394.5,515.6 1395.0,516.2 1395.5,518.6 1396.0,517.3 1396.5,519.3 1397.0,517.2 1397.5,517.5 1398.0,521.6 1398.5,522.2 1399.0,521.7 1399.5,521.9 1400.0,522.3 1400.5,521.9 1401.0,524.7 1401.5,524.1 1402.0,524.2 1402.5,524.4 1403.0,525.3 1403.5,524.9 1404.0,525.4 1404.5,523.6 1405.0,525.4 1405.5,527.1 1406.0,524.6 1406.5,525.1 1407.0,526.1 1407.5,526.2 1408.0,526.0 1408.5,523.9 1409.0,526.0 1409.5,524.4 1410.0,524.8 1410.5,526.1 1411.0,525.3 1411.5,526.4 1412.0,528.6 1412.5,526.4 1413.0,526.3 1413.5,524.9 1414.0,525.1 1414.5,524.7 1415.0,525.2 1415.5,524.7 1416.0,525.2 1416.5,525.6 1417.0,524.9 1417.5,524.5 1418.0,524.5 1418.5,526.2 1419.0,525.9 1419.5,526.8 1420.0,526.8 1420.5,525.5 1421.0,526.5 1421.5,524.5 1422.0,528.0 1422.5,527.0 1423.0,525.7 1423.5,524.8 1424.0,526.2 1424.5,524.2 1425.0,525.2 1425.5,526.6 1426.0,526.0 1426.5,525.5 1427.0,526.8 1427.5,525.0 1428.0,526.2 1428.5,525.5 1429.0,525.2 1429.5,526.4 1430.0,525.0 1430.5,527.7 1431.0,525.4 1431.5,527.8 1432.0,525.0 1432.5,526.5 1433.0,524.9 1433.5,524.8 1434.0,526.1 1434.5,526.6 1435.0,524.8 1435.5,527.1 1436.0,525.3 1436.5,526.1 1437.0,526.4 1437.5,526.6 1438.0,524.4 1438.5,527.5 1439.0,526.5 1439.5,525.6 1440.0,525.1 1440.5,524.5 1441.0,524.8 1441.5,526.5 1442.0,525.7 1442.5,525.0 1443.0,525.6 1443.5,527.5 1444.0,525.7 1444.5,525.5 1445.0,527.3 1445.5,526.5 1446.0,526.1 1446.5,525.5 1447.0,524.6 1447.5,525.0 1448.0,525.6 1448.5,525.9 1449.0,526.4 1449.5,526.6 1450.0,526.3 1450.5,526.2 1451.0,525.1 1451.5,524.1 1452.0,525.6 1452.5,525.2 1453.0,525.4 1453.5,525.8 1454.0,524.9 1454.5,525.0 1455.0,525.9 1455.5,526.1 1456.0,525.4 1456.5,526.4 1457.0,525.8 1457.5,525.0 1458.0,526.0 1458.5,527.6 1459.0,525.3 1459.5,526.9 1460.0,527.1 1460.5,527.2 1461.0,525.0 1461.5,527.6 1462.0,525.8 1462.5,525.5 1463.0,525.4 1463.5,526.2 1464.0,525.6 1464.5,525.3 1465.0,526.6 1465.5,524.7 1466.0,524.3 1466.5,526.0 1467.0,525.8 1467.5,526.1 1468.0,524.0 1468.5,526.0 1469.0,525.3 1469.5,526.5 1470.0,523.4 1470.5,524.8 1471.0,524.2 1471.5,522.8 1472.0,523.5 1472.5,525.3 1473.0,523.5 1473.5,523.2 1474.0,524.7 1474.5,524.7 1475.0,524.6 1475.5,522.6 1476.0,523.3 1476.5,524.3 1477.0,522.4 1477.5,522.2 1478.0,523.8 1478.5,524.5 1479.0,521.5 1479.5,519.8 1480.0,521.0 1480.5,521.4 1481.0,522.3 1481.5,523.0 1482.0,522.2 1482.5,521.5 1483.0,522.4 1483.5,521.1 1484.0,522.1 1484.5,521.5 1485.0,525.1 1485.5,523.1 1486.0,521.3 1486.5,521.1 1487.0,521.8 1487.5,520.5 1488.0,521.5 1488.5,521.6 1489.0,523.4 1489.5,522.1 1490.0,521.7 1490.5,521.2 1491.0,521.5 1491.5,522.8 1492.0,522.7 1492.5,524.3 1493.0,522.5 1493.5,524.4 1494.0,523.7 1494.5,523.5 1495.0,521.5 1495.5,522.4 1496.0,524.6 1496.5,525.4 1497.0,524.3 1497.5,525.0 1498.0,523.9 1498.5,524.0 1499.0,523.9 1499.5,525.6 1500.0,525.1" fill="none" stroke="#000" stroke-width="7.4" stroke-linejoin="round" stroke-linecap="butt"/>
<path d="M74.5,869.3 75.0,869.3 75.5,869.9 76.0,869.7 76.5,868.9 77.0,870.7 77.5,869.7 78.0,869.5 78.5,870.6 79.0,870.2 79.5,869.4 80.0,869.9 80.5,868.7 81.0,869.0 81.5,867.9 82.0,870.4 82.5,868.1 83.0,870.0 83.5,868.9 84.0,868.8 84.5,869.4 85.0,869.7 85.5,869.9 86.0,870.8 86.5,869.8 87.0,870.1 87.5,869.1 88.0,870.0 88.5,869.6 89.0,869.2 89.5,869.4 90.0,869.5 90.5,869.6 91.0,869.8 91.5,869.1 92.0,869.0 92.5,870.0 93.0,868.3 93.5,869.1 94.0,870.6 94.5,867.6 95.0,869.0 95.5,870.0 96.0,868.3 96.5,871.4 97.0,867.6 97.5,870.5 98.0,870.6 98.5,870.2 99.0,869.3 99.5,869.8 100.0,868.9 100.5,870.1 101.0,868.7 101.5,869.3 102.0,870.2 102.5,868.7 103.0,869.2 103.5,869.6 104.0,868.5 104.5,870.3 105.0,869.7 105.5,868.4 106.0,869.5 106.5,868.9 107.0,869.0 107.5,869.6 108.0,869.0 108.5,870.2 109.0,869.0 109.5,870.2 110.0,869.5 110.5,870.1 111.0,869.1 111.5,869.1 112.0,868.7 112.5,869.9 113.0,870.2 113.5,871.0 114.0,870.4 114.5,869.7 115.0,869.3 115.5,869.8 116.0,869.5 116.5,870.6 117.0,870.2 117.5,868.9 118.0,869.0 118.5,870.5 119.0,869.7 119.5,869.3 120.0,870.4 120.5,869.2 121.0,869.3 121.5,869.2 122.0,868.1 122.5,870.1 123.0,868.6 123.5,869.1 124.0,869.0 124.5,870.0 125.0,869.5 125.5,869.5 126.0,868.3 126.5,869.4 127.0,868.4 127.5,869.7 128.0,869.8 128.5,869.5 129.0,871.0 129.5,869.9 130.0,869.9 130.5,869.6 131.0,869.4 131.5,870.2 132.0,870.3 132.5,868.6 133.0,870.3 133.5,869.9 134.0,870.2 134.5,869.8 135.0,868.6 135.5,868.7 136.0,870.8 136.5,869.7 137.0,868.5 137.5,869.8 138.0,869.2 138.5,868.2 139.0,867.9 139.5,868.3 140.0,869.7 140.5,869.5 141.0,869.3 141.5,869.7 142.0,869.9 142.5,868.0 143.0,869.3 143.5,868.9 144.0,868.6 144.5,869.1 145.0,869.4 145.5,869.3 146.0,868.5 146.5,869.2 147.0,871.0 147.5,868.7 148.0,868.3 148.5,869.7 149.0,869.9 149.5,869.8 150.0,868.7 150.5,870.2 151.0,868.9 151.5,868.7 152.0,869.1 152.5,869.4 153.0,870.0 153.5,869.9 154.0,869.5 154.5,870.2 155.0,869.6 155.5,870.1 156.0,868.5 156.5,868.4 157.0,870.1 157.5,868.5 158.0,869.3 158.5,869.4 159.0,869.1 159.5,869.2 160.0,870.5 160.5,867.7 161.0,870.1 161.5,871.2 162.0,869.5 162.5,869.5 163.0,870.0 163.5,870.8 164.0,868.6 164.5,869.6 165.0,869.4 165.5,869.9 166.0,869.6 166.5,870.0 167.0,869.2 167.5,869.5 168.0,869.0 168.5,869.0 169.0,869.4 169.5,869.4 170.0,868.7 170.5,870.6 171.0,869.4 171.5,868.5 172.0,870.3 172.5,869.0 173.0,869.9 173.5,869.5 174.0,869.7 174.5,869.6 175.0,869.1 175.5,869.5 176.0,871.0 176.5,867.9 177.0,869.5 177.5,869.8 178.0,868.7 178.5,868.5 179.0,871.1 179.5,869.2 180.0,871.0 180.5,869.9 181.0,869.6 181.5,869.8 182.0,870.0 182.5,870.3 183.0,869.8 183.5,869.6 184.0,869.6 184.5,870.5 185.0,870.1 185.5,868.8 186.0,869.0 186.5,869.7 187.0,869.1 187.5,869.2 188.0,868.8 188.5,869.3 189.0,869.8 189.5,870.2 190.0,869.5 190.5,871.0 191.0,869.4 191.5,871.8 192.0,870.2 192.5,869.9 193.0,869.1 193.5,867.5 194.0,869.4 194.5,869.6 195.0,870.9 195.5,868.5 196.0,870.9 196.5,869.3 197.0,870.0 197.5,867.7 198.0,869.6 198.5,869.3 199.0,870.0 199.5,869.6 200.0,868.7 200.5,870.2 201.0,870.0 201.5,869.9 202.0,870.2 202.5,870.3 203.0,869.5 203.5,868.5 204.0,868.5 204.5,870.5 205.0,870.0 205.5,869.6 206.0,869.2 206.5,869.5 207.0,869.5 207.5,869.3 208.0,869.0 208.5,871.1 209.0,869.7 209.5,869.1 210.0,868.6 210.5,869.0 211.0,870.0 211.5,870.0 212.0,869.3 212.5,869.5 213.0,869.3 213.5,868.7 214.0,870.4 214.5,869.8 215.0,871.3 215.5,869.0 216.0,869.4 216.5,870.1 217.0,869.3 217.5,868.5 218.0,868.8 218.5,869.6 219.0,869.7 219.5,869.4 220.0,870.2 220.5,870.2 221.0,869.7 221.5,869.5 222.0,869.3 222.5,869.9 223.0,870.2 223.5,869.5 224.0,869.8 224.5,869.3 225.0,868.5 225.5,868.8 226.0,870.1 226.5,869.8 227.0,870.6 227.5,869.5 228.0,870.1 228.5,870.5 229.0,870.2 229.5,869.1 230.0,869.4 230.5,869.6 231.0,868.8 231.5,869.8 232.0,870.2 232.5,869.2 233.0,870.9 233.5,869.3 234.0,869.4 234.5,869.3 235.0,869.0 235.5,869.8 236.0,869.5 236.5,870.7 237.0,869.9 237.5,869.9 238.0,869.3 238.5,868.5 239.0,869.4 239.5,868.9 240.0,870.2 240.5,869.5 241.0,870.7 241.5,870.0 242.0,870.1 242.5,869.7 243.0,869.7 243.5,870.0 244.0,870.2 244.5,869.0 245.0,869.9 245.5,871.4 246.0,869.4 246.5,869.3 247.0,869.0 247.5,868.5 248.0,870.4 248.5,869.5 249.0,869.7 249.5,870.8 250.0,871.3 250.5,868.9 251.0,870.3 251.5,869.9 252.0,869.8 252.5,869.8 253.0,869.5 253.5,870.6 254.0,869.9 254.5,869.7 255.0,870.4 255.5,870.1 256.0,869.8 256.5,869.7 257.0,870.8 257.5,869.9 258.0,869.4 258.5,868.9 259.0,869.3 259.5,868.7 260.0,869.6 260.5,869.7 261.0,868.0 261.5,869.5 262.0,870.0 262.5,869.6 263.0,868.8 263.5,870.4 264.0,869.0 264.5,868.6 265.0,868.7 265.5,869.5 266.0,870.2 266.5,870.3 267.0,869.7 267.5,868.6 268.0,869.0 268.5,868.9 269.0,869.4 269.5,868.2 270.0,869.6 270.5,870.0 271.0,869.4 271.5,869.8 272.0,868.8 272.5,868.5 273.0,869.0 273.5,870.3 274.0,870.2 274.5,869.2 275.0,870.3 275.5,869.2 276.0,870.4 276.5,869.6 277.0,868.8 277.5,869.6 278.0,868.3 278.5,868.1 279.0,867.5 279.5,868.7 280.0,868.3 280.5,868.1 281.0,867.7 281.5,868.9 282.0,867.1 282.5,866.4 283.0,867.6 283.5,867.3 284.0,865.9 284.5,863.6 285.0,864.3 285.5,865.1 286.0,864.5 286.5,866.0 287.0,863.6 287.5,865.8 288.0,865.0 288.5,867.2 289.0,866.5 289.5,867.8 290.0,866.9 290.5,866.6 291.0,867.1 291.5,867.7 292.0,867.5 292.5,869.4 293.0,869.7 293.5,869.0 294.0,868.2 294.5,869.0 295.0,868.7 295.5,870.3 296.0,869.6 296.5,869.8 297.0,869.2 297.5,868.0 298.0,868.9 298.5,868.7 299.0,869.8 299.5,869.6 300.0,868.9 300.5,869.2 301.0,870.6 301.5,868.8 302.0,868.8 302.5,869.3 303.0,869.0 303.5,869.2 304.0,869.9 304.5,870.7 305.0,868.2 305.5,869.5 306.0,869.5 306.5,869.4 307.0,869.4 307.5,869.3 308.0,870.2 308.5,869.2 309.0,869.4 309.5,869.5 310.0,869.6 310.5,869.4 311.0,870.2 311.5,869.5 312.0,869.6 312.5,869.5 313.0,868.8 313.5,868.9 314.0,868.7 314.5,869.6 315.0,869.0 315.5,868.7 316.0,869.7 316.5,869.9 317.0,868.2 317.5,870.7 318.0,869.5 318.5,869.4 319.0,870.3 319.5,869.6 320.0,869.1 320.5,871.1 321.0,868.7 321.5,869.4 322.0,870.1 322.5,868.7 323.0,869.4 323.5,869.8 324.0,871.2 324.5,868.9 325.0,869.5 325.5,870.0 326.0,869.6 326.5,868.6 327.0,869.8 327.5,869.6 328.0,869.8 328.5,870.3 329.0,870.2 329.5,869.8 330.0,869.7 330.5,868.7 331.0,869.4 331.5,869.7 332.0,869.2 332.5,869.6 333.0,868.9 333.5,870.6 334.0,871.0 334.5,869.2 335.0,869.8 335.5,869.3 336.0,870.4 336.5,869.8 337.0,869.6 337.5,869.3 338.0,869.6 338.5,868.8 339.0,870.0 339.5,869.0 340.0,869.9 340.5,869.6 341.0,870.3 341.5,869.5 342.0,870.2 342.5,868.8 343.0,869.9 343.5,869.3 344.0,869.6 344.5,869.6 345.0,870.2 345.5,868.0 346.0,869.7 346.5,868.4 347.0,870.4 347.5,868.1 348.0,868.8 348.5,868.3 349.0,870.7 349.5,868.6 350.0,869.6 350.5,869.1 351.0,868.2 351.5,869.3 352.0,870.0 352.5,869.4 353.0,870.2 353.5,869.2 354.0,869.5 354.5,869.2 355.0,869.7 355.5,870.9 356.0,869.8 356.5,869.6 357.0,869.1 357.5,869.0 358.0,870.6 358.5,868.7 359.0,868.8 359.5,869.4 360.0,869.2 360.5,870.9 361.0,867.8 361.5,869.8 362.0,870.0 362.5,868.7 363.0,869.0 363.5,869.8 364.0,870.7 364.5,868.8 365.0,868.4 365.5,870.2 366.0,870.6 366.5,869.3 367.0,867.9 367.5,870.5 368.0,869.4 368.5,870.3 369.0,869.5 369.5,869.2 370.0,869.2 370.5,870.6 371.0,870.5 371.5,868.0 372.0,868.8 372.5,870.8 373.0,869.2 373.5,868.5 374.0,869.5 374.5,869.4 375.0,869.4 375.5,869.2 376.0,869.3 376.5,869.2 377.0,869.7 377.5,868.9 378.0,869.3 378.5,869.4 379.0,870.4 379.5,869.8 380.0,869.4 380.5,869.9 381.0,869.8 381.5,870.3 382.0,869.9 382.5,870.8 383.0,870.5 383.5,869.5 384.0,869.2 384.5,870.1 385.0,869.9 385.5,869.4 386.0,868.4 386.5,868.2 387.0,869.8 387.5,870.1 388.0,870.1 388.5,868.6 389.0,870.2 389.5,869.1 390.0,869.8 390.5,869.8 391.0,868.9 391.5,869.1 392.0,868.0 392.5,868.8 393.0,868.2 393.5,869.8 394.0,869.5 394.5,870.2 395.0,869.8 395.5,869.0 396.0,869.7 396.5,869.2 397.0,869.9 397.5,869.7 398.0,868.8 398.5,869.5 399.0,869.5 399.5,869.3 400.0,870.1 400.5,870.7 401.0,869.2 401.5,869.2 402.0,867.9 402.5,869.4 403.0,869.2 403.5,867.9 404.0,869.7 404.5,869.9 405.0,869.0 405.5,869.2 406.0,868.8 406.5,870.0 407.0,868.4 407.5,869.3 408.0,870.9 408.5,869.5 409.0,869.8 409.5,869.4 410.0,868.7 410.5,869.5 411.0,869.8 411.5,868.8 412.0,869.7 412.5,870.4 413.0,870.3 413.5,868.4 414.0,868.8 414.5,868.3 415.0,870.3 415.5,869.9 416.0,870.0 416.5,868.9 417.0,868.7 417.5,869.6 418.0,869.6 418.5,868.9 419.0,869.6 419.5,870.0 420.0,869.7 420.5,868.8 421.0,868.0 421.5,869.3 422.0,869.6 422.5,869.3 423.0,869.2 423.5,869.0 424.0,870.0 424.5,869.5 425.0,869.6 425.5,868.8 426.0,869.1 426.5,869.6 427.0,868.8 427.5,868.6 428.0,869.3 428.5,870.4 429.0,869.6 429.5,870.6 430.0,869.4 430.5,869.3 431.0,868.5 431.5,869.1 432.0,870.5 432.5,869.7 433.0,869.9 433.5,869.9 434.0,869.3 434.5,869.1 435.0,869.3 435.5,869.7 436.0,869.5 436.5,869.4 437.0,869.1 437.5,868.4 438.0,868.7 438.5,868.1 439.0,869.5 439.5,867.1 440.0,868.4 440.5,870.3 441.0,868.2 441.5,867.5 442.0,868.2 442.5,869.2 443.0,867.9 443.5,868.5 444.0,868.0 444.5,867.5 445.0,870.2 445.5,867.7 446.0,867.1 446.5,867.0 447.0,867.6 447.5,867.5 448.0,867.7 448.5,867.1 449.0,865.6 449.5,867.1 450.0,866.2 450.5,866.0 451.0,864.7 451.5,865.1 452.0,864.4 452.5,864.2 453.0,861.8 453.5,862.1 454.0,860.0 454.5,855.1 455.0,851.2 455.5,844.2 456.0,837.6 456.5,821.0 457.0,810.0 457.5,790.2 458.0,774.3 458.5,760.7 459.0,742.8 459.5,725.5 460.0,698.0 460.5,669.6 461.0,641.4 461.5,613.7 462.0,582.3 462.5,577.4 463.0,598.5 463.5,621.6 464.0,635.5 464.5,647.0 465.0,654.9 465.5,668.7 466.0,680.0 466.5,696.6 467.0,712.7 467.5,733.1 468.0,751.0 468.5,771.5 469.0,787.0 469.5,800.4 470.0,810.8 470.5,820.1 471.0,822.4 471.5,833.3 472.0,835.3 472.5,839.0 473.0,840.5 473.5,839.4 474.0,840.0 474.5,840.6 475.0,840.1 475.5,835.0 476.0,832.0 476.5,832.2 477.0,824.4 477.5,825.0 478.0,818.1 478.5,813.3 479.0,813.0 479.5,810.9 480.0,803.0 480.5,804.9 481.0,799.6 481.5,800.1 482.0,795.0 482.5,791.1 483.0,792.6 483.5,791.7 484.0,792.3 484.5,790.7 485.0,788.1 485.5,785.7 486.0,784.4 486.5,784.2 487.0,783.0 487.5,783.9 488.0,780.6 488.5,785.5 489.0,786.0 489.5,791.1 490.0,789.2 490.5,788.5 491.0,791.9 491.5,791.1 492.0,794.3 492.5,794.7 493.0,802.3 493.5,803.4 494.0,803.3 494.5,808.0 495.0,812.5 495.5,814.8 496.0,817.6 496.5,818.6 497.0,822.0 497.5,826.2 498.0,830.5 498.5,830.7 499.0,833.2 499.5,839.9 500.0,839.8 500.5,845.9 501.0,847.3 501.5,850.2 502.0,852.8 502.5,852.8 503.0,854.0 503.5,853.0 504.0,854.2 504.5,856.6 505.0,858.3 505.5,858.7 506.0,860.2 506.5,858.4 507.0,858.7 507.5,859.9 508.0,859.2 508.5,859.5 509.0,858.7 509.5,861.2 510.0,859.4 510.5,861.4 511.0,859.7 511.5,862.6 512.0,860.8 512.5,863.0 513.0,860.9 513.5,862.3 514.0,864.2 514.5,862.5 515.0,863.6 515.5,863.4 516.0,861.9 516.5,864.6 517.0,864.9 517.5,863.7 518.0,865.4 518.5,864.4 519.0,864.4 519.5,865.5 520.0,865.0 520.5,867.8 521.0,864.6 521.5,866.8 522.0,867.1 522.5,864.8 523.0,865.1 523.5,867.2 524.0,866.4 524.5,867.3 525.0,868.0 525.5,866.9 526.0,866.4 526.5,865.2 527.0,867.7 527.5,866.9 528.0,867.9 528.5,868.0 529.0,866.8 529.5,869.3 530.0,868.9 530.5,868.8 531.0,867.3 531.5,868.0 532.0,868.0 532.5,868.2 533.0,867.7 533.5,869.0 534.0,868.9 534.5,869.1 535.0,868.5 535.5,869.9 536.0,869.2 536.5,867.1 537.0,868.7 537.5,869.2 538.0,870.0 538.5,869.1 539.0,869.2 539.5,868.9 540.0,869.9 540.5,869.1 541.0,869.0 541.5,868.9 542.0,869.9 542.5,869.1 543.0,868.3 543.5,869.9 544.0,869.0 544.5,869.8 545.0,869.8 545.5,870.4 546.0,870.3 546.5,869.1 547.0,869.4 547.5,868.6 548.0,870.7 548.5,869.8 549.0,870.5 549.5,869.3 550.0,868.0 550.5,870.6 551.0,869.6 551.5,869.6 552.0,869.5 552.5,870.0 553.0,869.9 553.5,868.4 554.0,870.3 554.5,869.1 555.0,869.2 555.5,870.7 556.0,870.2 556.5,869.3 557.0,868.2 557.5,869.6 558.0,869.9 558.5,869.4 559.0,868.6 559.5,868.9 560.0,868.6 560.5,869.7 561.0,870.1 561.5,870.2 562.0,869.0 562.5,869.7 563.0,869.9 563.5,869.1 564.0,869.4 564.5,871.0 565.0,869.6 565.5,870.1 566.0,869.2 566.5,869.5 567.0,868.3 567.5,869.5 568.0,870.4 568.5,871.0 569.0,870.4 569.5,870.0 570.0,869.5 570.5,869.1 571.0,869.4 571.5,869.9 572.0,868.9 572.5,870.2 573.0,868.8 573.5,868.2 574.0,868.8 574.5,868.3 575.0,868.5 575.5,870.3 576.0,869.4 576.5,869.7 577.0,870.3 577.5,870.4 578.0,869.1 578.5,870.5 579.0,869.8 579.5,869.5 580.0,869.8 580.5,868.5 581.0,868.9 581.5,869.4 582.0,869.9 582.5,869.2 583.0,869.4 583.5,870.2 584.0,870.5 584.5,870.1 585.0,870.4 585.5,869.2 586.0,869.3 586.5,869.7 587.0,869.3 587.5,869.1 588.0,870.7 588.5,869.4 589.0,868.8 589.5,869.9 590.0,870.8 590.5,869.6 591.0,870.4 591.5,869.2 592.0,869.1 592.5,869.0 593.0,869.4 593.5,870.8 594.0,868.7 594.5,870.7 595.0,868.8 595.5,869.3 596.0,870.1 596.5,870.0 597.0,869.7 597.5,868.3 598.0,869.8 598.5,868.8 599.0,871.3 599.5,869.3 600.0,869.6 600.5,868.7 601.0,869.2 601.5,868.6 602.0,870.2 602.5,869.3 603.0,869.9 603.5,869.0 604.0,869.1 604.5,870.4 605.0,868.8 605.5,868.2 606.0,869.8 606.5,868.7 607.0,869.2 607.5,870.2 608.0,868.9 608.5,870.1 609.0,869.0 609.5,870.6 610.0,870.5 610.5,869.2 611.0,869.3 611.5,868.9 612.0,869.6 612.5,870.3 613.0,868.5 613.5,870.2 614.0,868.5 614.5,868.9 615.0,868.2 615.5,871.0 616.0,869.5 616.5,869.7 617.0,869.0 617.5,870.2 618.0,867.9 618.5,869.4 619.0,871.0 619.5,869.0 620.0,869.3 620.5,869.7 621.0,868.6 621.5,869.2 622.0,869.8 622.5,869.2 623.0,869.3 623.5,868.7 624.0,869.1 624.5,868.8 625.0,869.8 625.5,869.2 626.0,868.4 626.5,866.7 627.0,869.0 627.5,869.0 628.0,867.6 628.5,866.7 629.0,867.3 629.5,868.8 630.0,867.2 630.5,867.6 631.0,868.0 631.5,868.7 632.0,867.7 632.5,867.5 633.0,867.0 633.5,868.7 634.0,868.1 634.5,867.0 635.0,865.7 635.5,866.1 636.0,867.0 636.5,865.6 637.0,866.5 637.5,865.5 638.0,864.7 638.5,864.2 639.0,863.0 639.5,860.5 640.0,859.7 640.5,860.3 641.0,852.5 641.5,849.0 642.0,846.5 642.5,840.2 643.0,834.1 643.5,827.6 644.0,823.3 644.5,814.8 645.0,803.0 645.5,789.6 646.0,775.6 646.5,771.9 647.0,780.0 647.5,787.7 648.0,793.2 648.5,798.0 649.0,803.5 649.5,804.4 650.0,812.0 650.5,813.0 651.0,815.9 651.5,821.4 652.0,824.3 652.5,831.5 653.0,836.8 653.5,840.6 654.0,845.7 654.5,848.3 655.0,852.1 655.5,853.6 656.0,857.1 656.5,857.3 657.0,858.4 657.5,859.5 658.0,860.0 658.5,858.2 659.0,857.8 659.5,858.7 660.0,859.2 660.5,858.4 661.0,858.8 661.5,858.0 662.0,856.1 662.5,855.4 663.0,854.3 663.5,852.8 664.0,853.1 664.5,853.1 665.0,852.9 665.5,851.9 666.0,850.3 666.5,851.2 667.0,851.0 667.5,850.8 668.0,850.1 668.5,848.4 669.0,846.0 669.5,847.6 670.0,848.4 670.5,844.6 671.0,845.1 671.5,846.3 672.0,843.4 672.5,843.3 673.0,842.9 673.5,842.9 674.0,842.5 674.5,845.1 675.0,843.6 675.5,842.1 676.0,845.1 676.5,841.1 677.0,843.3 677.5,839.1 678.0,840.0 678.5,841.2 679.0,842.6 679.5,841.5 680.0,843.6 680.5,842.3 681.0,844.7 681.5,846.8 682.0,845.4 682.5,848.2 683.0,846.3 683.5,846.7 684.0,845.6 684.5,846.4 685.0,846.1 685.5,849.3 686.0,850.3 686.5,845.0 687.0,848.9 687.5,849.9 688.0,849.4 688.5,848.0 689.0,851.8 689.5,855.3 690.0,850.4 690.5,855.1 691.0,855.1 691.5,856.2 692.0,854.8 692.5,854.5 693.0,854.5 693.5,859.1 694.0,857.1 694.5,857.5 695.0,861.2 695.5,859.3 696.0,860.2 696.5,860.2 697.0,857.4 697.5,858.6 698.0,860.2 698.5,860.2 699.0,862.2 699.5,860.6 700.0,863.3 700.5,863.6 701.0,863.4 701.5,862.5 702.0,863.5 702.5,863.8 703.0,862.7 703.5,864.3 704.0,865.1 704.5,864.4 705.0,866.1 705.5,865.7 706.0,864.1 706.5,865.2 707.0,864.6 707.5,866.0 708.0,865.0 708.5,866.8 709.0,866.5 709.5,867.2 710.0,866.3 710.5,865.4 711.0,868.3 711.5,866.8 712.0,868.1 712.5,867.5 713.0,867.8 713.5,868.8 714.0,867.7 714.5,868.7 715.0,866.5 715.5,868.4 716.0,867.6 716.5,867.8 717.0,868.0 717.5,868.4 718.0,869.5 718.5,866.9 719.0,868.4 719.5,867.9 720.0,869.5 720.5,868.3 721.0,869.1 721.5,868.5 722.0,869.4 722.5,869.7 723.0,868.7 723.5,869.1 724.0,868.1 724.5,869.4 725.0,869.9 725.5,868.9 726.0,870.1 726.5,867.9 727.0,868.1 727.5,868.4 728.0,869.1 728.5,869.5 729.0,869.4 729.5,869.4 730.0,870.0 730.5,869.2 731.0,868.6 731.5,868.6 732.0,871.0 732.5,867.8 733.0,869.4 733.5,870.5 734.0,869.8 734.5,868.9 735.0,869.5 735.5,870.1 736.0,870.4 736.5,868.9 737.0,870.0 737.5,869.7 738.0,870.3 738.5,870.5 739.0,869.3 739.5,868.5 740.0,869.8 740.5,870.8 741.0,870.0 741.5,869.7 742.0,871.2 742.5,868.8 743.0,870.2 743.5,869.1 744.0,869.5 744.5,869.6 745.0,870.6 745.5,868.8 746.0,869.1 746.5,868.4 747.0,869.9 747.5,869.2 748.0,869.8 748.5,868.7 749.0,869.2 749.5,870.2 750.0,869.4 750.5,870.0 751.0,869.9 751.5,869.2 752.0,868.4 752.5,870.2 753.0,869.6 753.5,870.2 754.0,868.1 754.5,868.3 755.0,868.0 755.5,868.9 756.0,870.3 756.5,869.9 757.0,869.5 757.5,869.6 758.0,870.0 758.5,869.3 759.0,869.8 759.5,869.6 760.0,867.9 760.5,869.2 761.0,870.5 761.5,869.2 762.0,869.4 762.5,869.1 763.0,869.2 763.5,870.3 764.0,869.3 764.5,868.8 765.0,867.3 765.5,869.1 766.0,868.1 766.5,868.2 767.0,870.1 767.5,870.0 768.0,868.1 768.5,870.1 769.0,869.8 769.5,868.9 770.0,870.0 770.5,868.3 771.0,868.6 771.5,868.5 772.0,868.7 772.5,870.1 773.0,868.5 773.5,868.7 774.0,868.8 774.5,869.6 775.0,869.3 775.5,870.1 776.0,869.0 776.5,868.6 777.0,869.1 777.5,869.5 778.0,868.8 778.5,869.7 779.0,870.8 779.5,869.1 780.0,869.5 780.5,870.5 781.0,869.0 781.5,868.9 782.0,868.7 782.5,869.8 783.0,869.9 783.5,869.4 784.0,869.5 784.5,870.4 785.0,870.1 785.5,868.5 786.0,869.5 786.5,869.6 787.0,870.0 787.5,869.3 788.0,869.0 788.5,869.2 789.0,868.2 789.5,869.5 790.0,869.1 790.5,869.8 791.0,868.7 791.5,869.2 792.0,868.8 792.5,868.7 793.0,870.0 793.5,869.1 794.0,869.8 794.5,868.7 795.0,869.5 795.5,868.3 796.0,869.1 796.5,869.1 797.0,869.9 797.5,869.6 798.0,869.3 798.5,870.1 799.0,869.6 799.5,869.9 800.0,870.0 800.5,869.4 801.0,869.3 801.5,869.7 802.0,869.2 802.5,869.7 803.0,870.3 803.5,870.1 804.0,869.2 804.5,868.5 805.0,869.4 805.5,869.4 806.0,870.3 806.5,869.2 807.0,869.3 807.5,870.0 808.0,869.1 808.5,869.4 809.0,870.7 809.5,870.5 810.0,869.9 810.5,869.7 811.0,868.8 811.5,869.9 812.0,869.5 812.5,869.6 813.0,869.1 813.5,869.5 814.0,869.3 814.5,869.7 815.0,870.5 815.5,869.7 816.0,868.3 816.5,868.8 817.0,868.3 817.5,868.9 818.0,869.9 818.5,869.8 819.0,869.0 819.5,869.7 820.0,868.9 820.5,868.4 821.0,868.5 821.5,868.8 822.0,870.5 822.5,868.5 823.0,870.4 823.5,870.4 824.0,869.3 824.5,869.4 825.0,869.0 825.5,869.4 826.0,869.9 826.5,869.5 827.0,870.2 827.5,870.3 828.0,869.7 828.5,869.7 829.0,869.4 829.5,869.7 830.0,868.7 830.5,869.8 831.0,869.6 831.5,868.8 832.0,871.0 832.5,868.8 833.0,868.8 833.5,869.7 834.0,868.1 834.5,868.9 835.0,868.4 835.5,868.8 836.0,869.4 836.5,869.7 837.0,870.3 837.5,870.0 838.0,870.3 838.5,869.9 839.0,869.1 839.5,870.3 840.0,869.1 840.5,869.0 841.0,870.6 841.5,870.0 842.0,869.6 842.5,870.0 843.0,870.1 843.5,868.5 844.0,869.4 844.5,868.6 845.0,869.5 845.5,869.0 846.0,870.4 846.5,869.8 847.0,868.9 847.5,869.4 848.0,868.6 848.5,869.5 849.0,869.9 849.5,869.6 850.0,868.1 850.5,869.2 851.0,869.8 851.5,869.7 852.0,870.3 852.5,868.5 853.0,869.8 853.5,869.0 854.0,869.6 854.5,869.8 855.0,870.0 855.5,869.0 856.0,869.6 856.5,868.6 857.0,868.4 857.5,869.9 858.0,869.4 858.5,868.3 859.0,868.8 859.5,869.5 860.0,870.6 860.5,870.2 861.0,870.0 861.5,868.2 862.0,869.4 862.5,869.8 863.0,869.7 863.5,869.8 864.0,869.3 864.5,870.7 865.0,870.5 865.5,869.4 866.0,868.8 866.5,870.9 867.0,869.1 867.5,870.3 868.0,870.8 868.5,868.8 869.0,869.7 869.5,869.2 870.0,869.8 870.5,869.7 871.0,870.9 871.5,869.9 872.0,869.5 872.5,870.3 873.0,869.3 873.5,869.2 874.0,871.1 874.5,868.9 875.0,869.1 875.5,869.5 876.0,868.7 876.5,867.9 877.0,870.2 877.5,868.9 878.0,869.1 878.5,869.2 879.0,868.8 879.5,868.7 880.0,869.6 880.5,871.2 881.0,870.0 881.5,870.0 882.0,868.4 882.5,869.4 883.0,868.6 883.5,870.0 884.0,869.3 884.5,869.5 885.0,869.4 885.5,869.0 886.0,868.4 886.5,869.9 887.0,868.5 887.5,868.6 888.0,869.2 888.5,868.9 889.0,869.6 889.5,870.2 890.0,869.6 890.5,869.6 891.0,869.5 891.5,870.1 892.0,868.1 892.5,869.7 893.0,868.8 893.5,868.6 894.0,869.5 894.5,869.2 895.0,869.9 895.5,870.3 896.0,867.8 896.5,869.4 897.0,870.9 897.5,870.1 898.0,870.5 898.5,869.5 899.0,868.4 899.5,868.6 900.0,870.0 900.5,870.1 901.0,868.9 901.5,869.3 902.0,869.6 902.5,868.2 903.0,869.2 903.5,870.6 904.0,871.0 904.5,869.4 905.0,870.8 905.5,869.1 906.0,868.9 906.5,867.8 907.0,870.1 907.5,869.2 908.0,871.1 908.5,869.7 909.0,869.6 909.5,868.2 910.0,870.5 910.5,869.2 911.0,869.3 911.5,867.9 912.0,870.1 912.5,870.2 913.0,869.0 913.5,869.5 914.0,869.7 914.5,870.2 915.0,869.5 915.5,870.7 916.0,869.3 916.5,869.0 917.0,869.1 917.5,867.6 918.0,868.9 918.5,870.2 919.0,869.7 919.5,868.9 920.0,869.7 920.5,868.0 921.0,869.3 921.5,869.8 922.0,870.0 922.5,868.9 923.0,870.1 923.5,870.8 924.0,869.2 924.5,870.0 925.0,868.3 925.5,868.0 926.0,869.9 926.5,869.5 927.0,869.6 927.5,869.0 928.0,869.3 928.5,870.0 929.0,870.7 929.5,869.3 930.0,868.3 930.5,870.4 931.0,869.9 931.5,870.0 932.0,869.6 932.5,871.1 933.0,869.5 933.5,869.8 934.0,868.1 934.5,869.0 935.0,869.0 935.5,869.4 936.0,869.7 936.5,868.9 937.0,870.7 937.5,868.7 938.0,869.1 938.5,869.6 939.0,868.6 939.5,869.9 940.0,869.9 940.5,869.3 941.0,870.8 941.5,869.5 942.0,869.7 942.5,868.8 943.0,868.3 943.5,869.0 944.0,869.2 944.5,869.1 945.0,870.0 945.5,867.7 946.0,868.6 946.5,868.1 947.0,870.4 947.5,869.1 948.0,869.1 948.5,868.7 949.0,870.1 949.5,869.2 950.0,869.6 950.5,868.0 951.0,870.3 951.5,869.7 952.0,869.9 952.5,870.4 953.0,869.3 953.5,869.3 954.0,870.0 954.5,869.8 955.0,869.3 955.5,869.5 956.0,869.1 956.5,870.0 957.0,870.1 957.5,869.5 958.0,870.8 958.5,868.4 959.0,869.3 959.5,870.7 960.0,869.2 960.5,868.3 961.0,870.5 961.5,869.9 962.0,868.6 962.5,870.0 963.0,868.7 963.5,868.5 964.0,869.4 964.5,869.1 965.0,868.7 965.5,869.2 966.0,868.7 966.5,869.5 967.0,869.4 967.5,870.0 968.0,869.1 968.5,868.5 969.0,868.5 969.5,869.3 970.0,870.6 970.5,870.1 971.0,869.0 971.5,870.1 972.0,868.6 972.5,870.2 973.0,869.2 973.5,870.0 974.0,869.9 974.5,869.3 975.0,869.7 975.5,868.7 976.0,869.4 976.5,870.2 977.0,872.4 977.5,870.0 978.0,869.5 978.5,868.7 979.0,870.2 979.5,868.3 980.0,868.9 980.5,869.7 981.0,868.6 981.5,870.6 982.0,870.3 982.5,869.1 983.0,869.1 983.5,868.5 984.0,868.5 984.5,869.8 985.0,869.9 985.5,869.7 986.0,869.7 986.5,869.1 987.0,869.7 987.5,868.4 988.0,869.5 988.5,870.5 989.0,870.4 989.5,869.1 990.0,869.2 990.5,870.5 991.0,870.8 991.5,868.4 992.0,869.2 992.5,869.6 993.0,870.3 993.5,868.9 994.0,869.9 994.5,869.2 995.0,871.2 995.5,869.8 996.0,869.4 996.5,869.2 997.0,870.2 997.5,870.0 998.0,868.7 998.5,869.6 999.0,868.5 999.5,868.9 1000.0,868.5 1000.5,868.5 1001.0,869.0 1001.5,868.8 1002.0,869.8 1002.5,870.0 1003.0,869.3 1003.5,868.7 1004.0,870.0 1004.5,868.0 1005.0,868.1 1005.5,870.0 1006.0,869.9 1006.5,870.2 1007.0,869.3 1007.5,868.6 1008.0,869.1 1008.5,869.9 1009.0,868.9 1009.5,869.0 1010.0,868.5 1010.5,868.6 1011.0,870.1 1011.5,869.8 1012.0,868.6 1012.5,868.7 1013.0,869.1 1013.5,869.9 1014.0,868.6 1014.5,869.3 1015.0,867.9 1015.5,868.6 1016.0,869.8 1016.5,870.1 1017.0,868.6 1017.5,868.9 1018.0,870.0 1018.5,869.2 1019.0,869.1 1019.5,869.8 1020.0,869.6 1020.5,870.3 1021.0,870.0 1021.5,869.1 1022.0,869.4 1022.5,869.4 1023.0,868.5 1023.5,868.8 1024.0,870.2 1024.5,868.3 1025.0,870.2 1025.5,869.7 1026.0,869.4 1026.5,869.9 1027.0,869.8 1027.5,870.3 1028.0,869.2 1028.5,869.3 1029.0,869.3 1029.5,870.8 1030.0,870.2 1030.5,868.8 1031.0,869.2 1031.5,869.0 1032.0,869.5 1032.5,869.6 1033.0,871.1 1033.5,868.2 1034.0,870.2 1034.5,869.8 1035.0,869.0 1035.5,869.4 1036.0,869.1 1036.5,869.5 1037.0,870.2 1037.5,868.4 1038.0,870.4 1038.5,869.2 1039.0,870.6 1039.5,869.8 1040.0,870.4 1040.5,869.9 1041.0,870.3 1041.5,869.5 1042.0,868.9 1042.5,870.0 1043.0,870.0 1043.5,871.0 1044.0,868.0 1044.5,869.3 1045.0,870.2 1045.5,868.6 1046.0,869.3 1046.5,871.0 1047.0,870.5 1047.5,868.8 1048.0,870.5 1048.5,870.3 1049.0,870.0 1049.5,869.8 1050.0,869.6 1050.5,868.8 1051.0,869.1 1051.5,870.0 1052.0,869.6 1052.5,870.8 1053.0,869.2 1053.5,867.7 1054.0,869.2 1054.5,869.7 1055.0,869.8 1055.5,869.5 1056.0,868.9 1056.5,870.6 1057.0,869.0 1057.5,870.0 1058.0,869.3 1058.5,868.6 1059.0,870.5 1059.5,867.7 1060.0,868.9 1060.5,869.8 1061.0,869.2 1061.5,870.0 1062.0,869.4 1062.5,869.2 1063.0,871.0 1063.5,869.3 1064.0,869.4 1064.5,868.7 1065.0,868.9 1065.5,870.0 1066.0,869.9 1066.5,869.5 1067.0,869.0 1067.5,870.0 1068.0,868.3 1068.5,869.2 1069.0,869.3 1069.5,868.9 1070.0,869.6 1070.5,869.0 1071.0,868.9 1071.5,870.8 1072.0,870.0 1072.5,870.4 1073.0,869.5 1073.5,870.2 1074.0,870.1 1074.5,870.4 1075.0,871.2 1075.5,869.3 1076.0,869.7 1076.5,869.5 1077.0,867.0 1077.5,868.5 1078.0,869.5 1078.5,869.9 1079.0,869.1 1079.5,870.3 1080.0,870.4 1080.5,869.2 1081.0,870.5 1081.5,870.8 1082.0,869.8 1082.5,868.8 1083.0,870.6 1083.5,869.4 1084.0,869.2 1084.5,869.6 1085.0,869.1 1085.5,870.3 1086.0,870.1 1086.5,870.4 1087.0,869.9 1087.5,868.9 1088.0,869.4 1088.5,870.1 1089.0,869.2 1089.5,871.6 1090.0,869.3 1090.5,869.1 1091.0,870.3 1091.5,870.0 1092.0,869.5 1092.5,869.3 1093.0,869.8 1093.5,870.1 1094.0,870.0 1094.5,869.3 1095.0,869.8 1095.5,870.1 1096.0,870.1 1096.5,867.3 1097.0,868.9 1097.5,868.9 1098.0,869.3 1098.5,869.6 1099.0,870.2 1099.5,869.9 1100.0,869.4 1100.5,869.5 1101.0,870.8 1101.5,869.1 1102.0,869.7 1102.5,870.6 1103.0,869.7 1103.5,868.0 1104.0,869.8 1104.5,869.2 1105.0,869.4 1105.5,870.3 1106.0,869.8 1106.5,869.3 1107.0,870.1 1107.5,869.8 1108.0,869.6 1108.5,869.7 1109.0,869.7 1109.5,869.3 1110.0,869.2 1110.5,869.5 1111.0,868.8 1111.5,868.6 1112.0,870.4 1112.5,869.3 1113.0,869.5 1113.5,869.4 1114.0,869.5 1114.5,869.5 1115.0,869.5 1115.5,868.9 1116.0,870.2 1116.5,869.0 1117.0,870.2 1117.5,868.1 1118.0,868.7 1118.5,870.2 1119.0,869.4 1119.5,869.0 1120.0,869.8 1120.5,868.7 1121.0,869.6 1121.5,867.9 1122.0,869.2 1122.5,869.0 1123.0,869.9 1123.5,870.1 1124.0,868.9 1124.5,870.7 1125.0,869.1 1125.5,868.0 1126.0,867.8 1126.5,870.6 1127.0,869.4 1127.5,869.0 1128.0,869.0 1128.5,868.7 1129.0,870.5 1129.5,869.4 1130.0,870.8 1130.5,869.4 1131.0,867.8 1131.5,870.1 1132.0,869.2 1132.5,869.3 1133.0,870.6 1133.5,869.3 1134.0,870.3 1134.5,869.5 1135.0,869.0 1135.5,869.9 1136.0,869.1 1136.5,870.4 1137.0,870.2 1137.5,869.5 1138.0,869.9 1138.5,869.9 1139.0,869.3 1139.5,870.1 1140.0,869.3 1140.5,869.9 1141.0,868.8 1141.5,869.6 1142.0,869.8 1142.5,868.9 1143.0,869.2 1143.5,869.1 1144.0,870.0 1144.5,869.0 1145.0,869.8 1145.5,870.6 1146.0,869.8 1146.5,868.3 1147.0,869.6 1147.5,870.3 1148.0,869.3 1148.5,870.3 1149.0,869.9 1149.5,869.8 1150.0,869.3 1150.5,869.1 1151.0,869.3 1151.5,869.6 1152.0,869.9 1152.5,869.8 1153.0,869.3 1153.5,869.6 1154.0,869.8 1154.5,868.3 1155.0,869.0 1155.5,868.9 1156.0,869.4 1156.5,869.3 1157.0,869.3 1157.5,868.9 1158.0,870.0 1158.5,869.7 1159.0,868.3 1159.5,869.5 1160.0,868.7 1160.5,870.7 1161.0,869.2 1161.5,869.2 1162.0,869.6 1162.5,869.4 1163.0,869.5 1163.5,870.6 1164.0,869.7 1164.5,870.1 1165.0,870.3 1165.5,868.8 1166.0,870.7 1166.5,870.0 1167.0,870.2 1167.5,868.9 1168.0,870.1 1168.5,869.8 1169.0,869.1 1169.5,871.2 1170.0,869.9 1170.5,869.3 1171.0,869.7 1171.5,870.2 1172.0,870.3 1172.5,869.9 1173.0,870.4 1173.5,870.6 1174.0,868.6 1174.5,869.2 1175.0,868.8 1175.5,869.6 1176.0,870.6 1176.5,870.0 1177.0,868.8 1177.5,869.3 1178.0,870.3 1178.5,869.1 1179.0,869.4 1179.5,869.7 1180.0,868.2 1180.5,870.1 1181.0,869.8 1181.5,869.9 1182.0,868.8 1182.5,869.0 1183.0,869.1 1183.5,869.7 1184.0,869.6 1184.5,869.6 1185.0,870.8 1185.5,870.5 1186.0,869.0 1186.5,869.0 1187.0,870.7 1187.5,869.3 1188.0,870.5 1188.5,870.7 1189.0,869.1 1189.5,869.3 1190.0,869.6 1190.5,868.9 1191.0,868.8 1191.5,869.2 1192.0,870.1 1192.5,869.2 1193.0,869.4 1193.5,869.2 1194.0,868.5 1194.5,870.6 1195.0,867.8 1195.5,869.0 1196.0,869.9 1196.5,868.5 1197.0,869.9 1197.5,870.4 1198.0,868.9 1198.5,869.7 1199.0,868.7 1199.5,869.9 1200.0,869.6 1200.5,869.7 1201.0,870.5 1201.5,869.9 1202.0,870.5 1202.5,870.0 1203.0,868.7 1203.5,869.7 1204.0,869.9 1204.5,868.5 1205.0,870.5 1205.5,869.6 1206.0,869.8 1206.5,868.9 1207.0,869.6 1207.5,869.7 1208.0,869.3 1208.5,869.6 1209.0,868.0 1209.5,870.5 1210.0,868.7 1210.5,867.9 1211.0,868.8 1211.5,868.9 1212.0,869.9 1212.5,868.9 1213.0,869.7 1213.5,868.8 1214.0,871.1 1214.5,869.9 1215.0,870.9 1215.5,868.8 1216.0,870.0 1216.5,868.8 1217.0,869.9 1217.5,870.0 1218.0,868.4 1218.5,868.7 1219.0,868.7 1219.5,868.4 1220.0,869.0 1220.5,868.8 1221.0,868.5 1221.5,869.6 1222.0,869.9 1222.5,868.6 1223.0,869.1 1223.5,869.5 1224.0,869.3 1224.5,869.0 1225.0,870.1 1225.5,870.1 1226.0,870.0 1226.5,869.3 1227.0,870.9 1227.5,870.7 1228.0,869.2 1228.5,869.4 1229.0,870.3 1229.5,868.8 1230.0,869.7 1230.5,869.4 1231.0,868.8 1231.5,869.1 1232.0,868.1 1232.5,868.8 1233.0,867.7 1233.5,870.8 1234.0,870.2 1234.5,870.0 1235.0,869.3 1235.5,869.7 1236.0,869.9 1236.5,869.7 1237.0,869.5 1237.5,868.1 1238.0,869.1 1238.5,868.3 1239.0,867.7 1239.5,867.7 1240.0,868.8 1240.5,869.2 1241.0,867.3 1241.5,869.6 1242.0,869.3 1242.5,867.7 1243.0,867.5 1243.5,867.6 1244.0,868.3 1244.5,866.9 1245.0,866.1 1245.5,867.1 1246.0,864.8 1246.5,866.3 1247.0,866.7 1247.5,865.3 1248.0,865.1 1248.5,864.1 1249.0,863.5 1249.5,862.1 1250.0,860.2 1250.5,859.6 1251.0,858.5 1251.5,858.7 1252.0,857.9 1252.5,855.5 1253.0,853.1 1253.5,852.2 1254.0,852.0 1254.5,853.2 1255.0,851.2 1255.5,850.2 1256.0,849.2 1256.5,851.7 1257.0,851.5 1257.5,851.9 1258.0,853.1 1258.5,856.1 1259.0,854.8 1259.5,858.0 1260.0,858.7 1260.5,858.6 1261.0,860.8 1261.5,860.9 1262.0,861.2 1262.5,862.6 1263.0,862.9 1263.5,865.1 1264.0,865.4 1264.5,866.6 1265.0,867.4 1265.5,864.6 1266.0,867.6 1266.5,866.2 1267.0,868.0 1267.5,867.5 1268.0,868.5 1268.5,869.6 1269.0,867.5 1269.5,868.9 1270.0,869.0 1270.5,867.6 1271.0,869.4 1271.5,869.2 1272.0,868.4 1272.5,868.2 1273.0,871.2 1273.5,868.4 1274.0,867.1 1274.5,867.3 1275.0,867.9 1275.5,867.7 1276.0,868.4 1276.5,867.2 1277.0,868.0 1277.5,866.7 1278.0,866.1 1278.5,866.0 1279.0,866.5 1279.5,867.5 1280.0,866.8 1280.5,866.2 1281.0,866.1 1281.5,866.1 1282.0,868.3 1282.5,865.6 1283.0,866.0 1283.5,865.9 1284.0,864.7 1284.5,865.8 1285.0,865.8 1285.5,865.5 1286.0,865.8 1286.5,865.2 1287.0,866.9 1287.5,865.1 1288.0,865.2 1288.5,867.4 1289.0,862.3 1289.5,864.1 1290.0,864.5 1290.5,864.8 1291.0,863.5 1291.5,863.5 1292.0,865.3 1292.5,865.0 1293.0,862.6 1293.5,864.6 1294.0,861.6 1294.5,862.6 1295.0,862.3 1295.5,861.6 1296.0,862.7 1296.5,863.0 1297.0,863.9 1297.5,862.0 1298.0,861.3 1298.5,863.0 1299.0,861.8 1299.5,861.1 1300.0,862.8 1300.5,860.8 1301.0,863.5 1301.5,859.7 1302.0,861.3 1302.5,861.0 1303.0,860.3 1303.5,859.9 1304.0,862.9 1304.5,861.7 1305.0,859.2 1305.5,862.4 1306.0,860.0 1306.5,859.2 1307.0,857.9 1307.5,860.3 1308.0,860.0 1308.5,861.3 1309.0,862.0 1309.5,860.9 1310.0,862.1 1310.5,861.4 1311.0,863.1 1311.5,863.8 1312.0,860.5 1312.5,859.9 1313.0,860.9 1313.5,860.1 1314.0,862.0 1314.5,861.6 1315.0,862.5 1315.5,860.9 1316.0,859.9 1316.5,862.4 1317.0,863.8 1317.5,863.2 1318.0,861.1 1318.5,864.1 1319.0,863.9 1319.5,862.6 1320.0,863.7 1320.5,864.5 1321.0,865.8 1321.5,864.6 1322.0,864.4 1322.5,864.2 1323.0,863.1 1323.5,863.4 1324.0,865.7 1324.5,865.3 1325.0,865.1 1325.5,866.1 1326.0,865.9 1326.5,866.3 1327.0,863.4 1327.5,865.7 1328.0,865.5 1328.5,865.4 1329.0,865.1 1329.5,866.9 1330.0,866.6 1330.5,865.4 1331.0,865.0 1331.5,865.9 1332.0,866.1 1332.5,867.9 1333.0,865.4 1333.5,865.6 1334.0,866.8 1334.5,866.9 1335.0,867.4 1335.5,867.7 1336.0,869.2 1336.5,867.3 1337.0,867.2 1337.5,866.4 1338.0,868.2 1338.5,868.6 1339.0,867.8 1339.5,869.2 1340.0,868.3 1340.5,869.6 1341.0,868.6 1341.5,867.7 1342.0,868.0 1342.5,867.4 1343.0,867.3 1343.5,868.8 1344.0,869.4 1344.5,870.2 1345.0,868.7 1345.5,868.6 1346.0,868.0 1346.5,869.6 1347.0,869.2 1347.5,868.6 1348.0,869.6 1348.5,869.5 1349.0,867.7 1349.5,869.7 1350.0,869.3 1350.5,868.9 1351.0,869.0 1351.5,870.6 1352.0,870.4 1352.5,870.7 1353.0,868.5 1353.5,868.9 1354.0,870.1 1354.5,868.6 1355.0,868.9 1355.5,868.2 1356.0,870.8 1356.5,870.2 1357.0,869.8 1357.5,869.7 1358.0,869.2 1358.5,869.2 1359.0,869.9 1359.5,869.0 1360.0,870.4 1360.5,869.1 1361.0,868.9 1361.5,870.4 1362.0,869.4 1362.5,869.9 1363.0,869.2 1363.5,867.9 1364.0,869.9 1364.5,868.5 1365.0,870.3 1365.5,868.4 1366.0,868.2 1366.5,869.7 1367.0,869.8 1367.5,869.6 1368.0,868.6 1368.5,870.1 1369.0,868.4 1369.5,869.2 1370.0,868.9 1370.5,869.2 1371.0,870.1 1371.5,869.0 1372.0,869.9 1372.5,870.0 1373.0,868.3 1373.5,868.7 1374.0,869.2 1374.5,869.1 1375.0,869.7 1375.5,868.1 1376.0,870.0 1376.5,870.0 1377.0,869.4 1377.5,868.5 1378.0,869.5 1378.5,869.1 1379.0,869.9 1379.5,869.4 1380.0,870.0 1380.5,869.2 1381.0,870.5 1381.5,867.8 1382.0,868.8 1382.5,869.9 1383.0,868.4 1383.5,870.0 1384.0,868.6 1384.5,869.6 1385.0,868.8 1385.5,869.2 1386.0,869.6 1386.5,869.4 1387.0,869.2 1387.5,871.1 1388.0,869.5 1388.5,868.8 1389.0,870.2 1389.5,870.1 1390.0,870.4 1390.5,870.8 1391.0,868.8 1391.5,870.3 1392.0,870.3 1392.5,869.5 1393.0,869.7 1393.5,867.3 1394.0,869.1 1394.5,870.8 1395.0,868.2 1395.5,869.1 1396.0,869.7 1396.5,869.9 1397.0,870.7 1397.5,868.2 1398.0,869.5 1398.5,870.1 1399.0,868.6 1399.5,869.5 1400.0,870.9 1400.5,870.4 1401.0,869.9 1401.5,867.6 1402.0,869.4 1402.5,869.8 1403.0,869.3 1403.5,869.5 1404.0,871.7 1404.5,869.3 1405.0,868.8 1405.5,869.7 1406.0,869.3 1406.5,869.3 1407.0,869.4 1407.5,870.1 1408.0,869.7 1408.5,868.6 1409.0,869.4 1409.5,869.8 1410.0,869.2 1410.5,870.3 1411.0,870.1 1411.5,868.8 1412.0,869.7 1412.5,870.9 1413.0,870.6 1413.5,869.5 1414.0,870.1 1414.5,869.0 1415.0,868.5 1415.5,869.9 1416.0,869.7 1416.5,869.9 1417.0,869.5 1417.5,869.7 1418.0,869.1 1418.5,869.8 1419.0,870.1 1419.5,869.5 1420.0,870.1 1420.5,868.2 1421.0,868.9 1421.5,870.5 1422.0,870.8 1422.5,869.7 1423.0,869.4 1423.5,868.6 1424.0,869.8 1424.5,870.1 1425.0,868.4 1425.5,869.9 1426.0,869.9 1426.5,869.8 1427.0,868.7 1427.5,869.9 1428.0,868.4 1428.5,870.6 1429.0,869.6 1429.5,868.7 1430.0,870.5 1430.5,870.3 1431.0,869.0 1431.5,871.1 1432.0,868.8 1432.5,869.7 1433.0,870.4 1433.5,867.9 1434.0,870.2 1434.5,869.5 1435.0,869.5 1435.5,868.7 1436.0,869.7 1436.5,868.7 1437.0,868.8 1437.5,869.2 1438.0,868.6 1438.5,870.6 1439.0,868.5 1439.5,869.0 1440.0,869.3 1440.5,869.5 1441.0,870.1 1441.5,870.1 1442.0,869.3 1442.5,869.2 1443.0,869.5 1443.5,870.1 1444.0,870.0 1444.5,869.1 1445.0,868.0 1445.5,871.0 1446.0,870.2 1446.5,869.7 1447.0,869.7 1447.5,869.1 1448.0,868.8 1448.5,869.3 1449.0,869.3 1449.5,869.0 1450.0,868.5 1450.5,869.3 1451.0,869.9 1451.5,869.1 1452.0,869.5 1452.5,868.0 1453.0,869.4 1453.5,869.4 1454.0,868.6 1454.5,868.3 1455.0,869.8 1455.5,868.9 1456.0,869.9 1456.5,869.2 1457.0,869.9 1457.5,869.3 1458.0,868.4 1458.5,869.4 1459.0,869.3 1459.5,870.0 1460.0,869.2 1460.5,869.2 1461.0,870.1 1461.5,870.3 1462.0,870.0 1462.5,870.2 1463.0,869.8 1463.5,870.1 1464.0,870.1 1464.5,869.8 1465.0,869.5 1465.5,869.6 1466.0,871.2 1466.5,869.5 1467.0,869.3 1467.5,869.2 1468.0,869.5 1468.5,869.7 1469.0,868.7 1469.5,868.1 1470.0,869.7 1470.5,868.3 1471.0,869.7 1471.5,869.6 1472.0,870.3 1472.5,870.7 1473.0,869.8 1473.5,869.1 1474.0,868.7 1474.5,868.9 1475.0,869.5 1475.5,868.0 1476.0,869.6 1476.5,869.5 1477.0,870.0 1477.5,869.3 1478.0,869.6 1478.5,869.0 1479.0,869.2 1479.5,868.2 1480.0,869.6 1480.5,870.6 1481.0,869.6 1481.5,869.8 1482.0,868.8 1482.5,870.5 1483.0,868.9 1483.5,870.1 1484.0,869.6 1484.5,868.8 1485.0,870.2 1485.5,869.5 1486.0,869.6 1486.5,869.8 1487.0,869.5 1487.5,869.2 1488.0,869.8 1488.5,869.2 1489.0,869.5 1489.5,869.0 1490.0,868.4 1490.5,869.0 1491.0,869.1 1491.5,869.5 1492.0,870.4 1492.5,868.3 1493.0,869.6 1493.5,867.9 1494.0,868.7 1494.5,869.1 1495.0,867.9 1495.5,868.2 1496.0,869.6 1496.5,869.6 1497.0,869.4 1497.5,868.9 1498.0,871.1 1498.5,869.4 1499.0,868.9 1499.5,870.7 1500.0,869.9" fill="none" stroke="#fe0000" stroke-width="8" stroke-linejoin="round" stroke-linecap="butt"/>
<line x1="1186" y1="52" x2="1274" y2="52" stroke="#000" stroke-width="7.7"/>
<line x1="1186" y1="100.2" x2="1274" y2="100.2" stroke="#fe0000" stroke-width="7.7"/>
<text transform="translate(1283.91,65.30) scale(1.0260,1)" font-family="'Liberation Serif', serif" font-size="38.48" fill="#000" stroke="#000" stroke-width="0.3">Alloy Oxide</text>
<text transform="translate(1283.91,113.40) scale(1.0267,1)" font-family="'Liberation Serif', serif" font-size="38.48" fill="#000" stroke="#000" stroke-width="0.3">Alloy(V)</text>
<text transform="translate(92.21,962.14) scale(1.0073,1)" font-family="'Liberation Sans', sans-serif" font-size="46.61" fill="#000" stroke="#000" stroke-width="0.3">30</text>
<text transform="translate(350.64,962.14) scale(0.9928,1)" font-family="'Liberation Sans', sans-serif" font-size="46.61" fill="#000" stroke="#000" stroke-width="0.3">40</text>
<text transform="translate(607.32,962.14) scale(1.0092,1)" font-family="'Liberation Sans', sans-serif" font-size="46.61" fill="#000" stroke="#000" stroke-width="0.3">50</text>
<text transform="translate(864.59,962.14) scale(1.0198,1)" font-family="'Liberation Sans', sans-serif" font-size="46.61" fill="#000" stroke="#000" stroke-width="0.3">60</text>
<text transform="translate(1122.26,962.14) scale(1.0203,1)" font-family="'Liberation Sans', sans-serif" font-size="46.61" fill="#000" stroke="#000" stroke-width="0.3">70</text>
<text transform="translate(1380.25,962.14) scale(1.0125,1)" font-family="'Liberation Sans', sans-serif" font-size="46.61" fill="#000" stroke="#000" stroke-width="0.3">80</text>
<text transform="translate(601.52,1013.90) scale(1.0770,1)" font-family="'Liberation Sans', sans-serif" font-size="47.69" fill="#000" stroke="#000" stroke-width="0.3">2</text>
<text transform="translate(630.30,1014.11) scale(1.0246,1)" font-family="'Liberation Serif', serif" font-size="50.01" fill="#000" stroke="#000" stroke-width="0.3">Θ</text>
<text transform="translate(679.97,1013.90) scale(1.0583,1)" font-family="'Liberation Serif', serif" font-size="47.99" fill="#000" stroke="#000" stroke-width="0.3">(degree)</text>
<text transform="translate(36.90,577.69) rotate(-90) scale(0.9708,1)" font-family="'Liberation Sans', sans-serif" font-size="52.33" fill="#000" stroke="#000" stroke-width="0.3">Intensity(a.u)</text>
<text transform="translate(734.52,169.91) scale(1.0662,1)" font-family="'DejaVu Math TeX Gyre', 'DejaVu Serif', serif" font-size="40.47" fill="#000" stroke="#000" stroke-width="0.3">∇</text>
<text transform="translate(778.86,170.40) scale(0.9659,1)" font-family="'Liberation Sans', sans-serif" font-size="37.50" fill="#000" stroke="#000" stroke-width="0.3">Copper Nickel Zinc Iron Oxide</text>
<text transform="translate(737.11,229.58) scale(1.0604,1)" font-family="'Liberation Serif', serif" font-size="43.46" fill="#fe0000" stroke="#fe0000" stroke-width="0.3">O</text>
<text transform="translate(778.80,229.20) scale(0.9970,1)" font-family="'Liberation Sans', sans-serif" font-size="37.50" fill="#000" stroke="#000" stroke-width="0.3"><tspan font-size="37.50" dy="0.00">CuFe</tspan><tspan font-size="22.50" dy="10.69">2</tspan><tspan font-size="37.50" dy="-10.69">O</tspan><tspan font-size="22.50" dy="10.69">4</tspan></text>
<text transform="translate(737.84,290.60) scale(0.9524,1)" font-family="'Liberation Sans', sans-serif" font-size="43.09" fill="#000" stroke="#000" stroke-width="0.3">◊</text>
<text transform="translate(767.96,288.80) scale(0.9881,1)" font-family="'Liberation Sans', sans-serif" font-size="37.50" fill="#000" stroke="#000" stroke-width="0.3">NiO</text>
<text transform="translate(737.81,344.00) scale(1.0780,1)" font-family="'Liberation Sans', sans-serif" font-size="40.20" fill="#000" stroke="#000" stroke-width="0.5">#</text>
<text transform="translate(771.94,343.70) scale(0.9776,1)" font-family="'Liberation Sans', sans-serif" font-size="37.50" fill="#000" stroke="#000" stroke-width="0.3"><tspan font-size="37.50" dy="0.00">CuFeO</tspan><tspan font-size="23.25" dy="10.31">2</tspan></text>
<text transform="translate(729.28,605.52) scale(0.9325,1)" font-family="'Liberation Serif', serif" font-size="53.18" fill="#000" stroke="#000" stroke-width="0.3">*</text>
<text transform="translate(763.95,596.80) scale(0.9701,1)" font-family="'Liberation Sans', sans-serif" font-size="37.50" fill="#000" stroke="#000" stroke-width="0.3">Copper Nikel</text>
<text transform="translate(727.37,653.60) scale(1.0799,1)" font-family="'Liberation Sans', sans-serif" font-size="44.48" fill="#000" stroke="#000" stroke-width="0.4">Δ</text>
<text transform="translate(767.93,653.60) scale(0.9741,1)" font-family="'Liberation Sans', sans-serif" font-size="37.50" fill="#000" stroke="#000" stroke-width="0.3">Iron</text>
<text transform="translate(733.40,712.79) scale(1.1065,1)" font-family="'Liberation Sans', sans-serif" font-size="42.01" fill="#000" stroke="#000" stroke-width="0.3">♦</text>
<text transform="translate(760.83,712.00) scale(0.9859,1)" font-family="'Liberation Sans', sans-serif" font-size="37.50" fill="#000" stroke="#000" stroke-width="0.3">Zinc</text>
<text transform="translate(730.52,771.33) scale(1.1397,1)" font-family="'Liberation Sans', sans-serif" font-size="41.91" fill="#000" stroke="#000" stroke-width="0.3">♥</text>
<text transform="translate(771.83,770.60) scale(0.9503,1)" font-family="'Liberation Sans', sans-serif" font-size="37.50" fill="#000" stroke="#000" stroke-width="0.3">Alloy</text>
<text transform="translate(111.25,372.36) rotate(90) scale(0.9319,1)" font-family="'Liberation Sans', sans-serif" font-size="28.40" fill="#000" stroke="#000" stroke-width="0.3">(220)</text>
<text transform="translate(244.40,195.54) rotate(90) scale(0.9430,1)" font-family="'Liberation Sans', sans-serif" font-size="28.40" fill="#000" stroke="#000" stroke-width="0.3">(311)</text>
<text transform="translate(277.15,261.08) rotate(90) scale(0.9191,1)" font-family="'Liberation Sans', sans-serif" font-size="28.40" fill="#000" stroke="#000" stroke-width="0.3">(311)</text>
<text transform="translate(276.70,340.54) rotate(90) scale(0.9446,1)" font-family="'Liberation Sans', sans-serif" font-size="28.40" fill="#000" stroke="#000" stroke-width="0.3">(222)</text>
<text transform="translate(311.45,275.65) rotate(90) scale(0.9351,1)" font-family="'Liberation Sans', sans-serif" font-size="28.40" fill="#000" stroke="#000" stroke-width="0.3">(111)</text>
<text transform="translate(484.60,92.22) rotate(90) scale(0.9542,1)" font-family="'Liberation Sans', sans-serif" font-size="28.40" fill="#000" stroke="#000" stroke-width="0.3">(400)</text>
<text transform="translate(723.20,404.53) rotate(90) scale(0.9462,1)" font-family="'Liberation Sans', sans-serif" font-size="28.40" fill="#000" stroke="#000" stroke-width="0.3">(422)</text>
<text transform="translate(815.60,404.33) rotate(90) scale(0.9494,1)" font-family="'Liberation Sans', sans-serif" font-size="28.40" fill="#000" stroke="#000" stroke-width="0.3">(511)</text>
<text transform="translate(937.05,316.56) rotate(90) scale(0.9303,1)" font-family="'Liberation Sans', sans-serif" font-size="28.40" fill="#000" stroke="#000" stroke-width="0.3">(440)</text>
<text transform="translate(973.55,316.54) rotate(90) scale(0.9398,1)" font-family="'Liberation Sans', sans-serif" font-size="28.40" fill="#000" stroke="#000" stroke-width="0.3">(220)</text>
<text transform="translate(1036.80,398.04) rotate(90) scale(0.9398,1)" font-family="'Liberation Sans', sans-serif" font-size="28.40" fill="#000" stroke="#000" stroke-width="0.3">(531)</text>
<text transform="translate(1275.90,314.94) rotate(90) scale(0.9398,1)" font-family="'Liberation Sans', sans-serif" font-size="28.40" fill="#000" stroke="#000" stroke-width="0.3">(622)</text>
<text transform="translate(1382.00,355.40) rotate(90) scale(0.9637,1)" font-family="'Liberation Sans', sans-serif" font-size="28.40" fill="#000" stroke="#000" stroke-width="0.3">(444)</text>
<text transform="translate(422.80,595.71) rotate(90) scale(0.9574,1)" font-family="'Liberation Sans', sans-serif" font-size="28.40" fill="#000" stroke="#000" stroke-width="0.3">(101)</text>
<text transform="translate(482.10,582.42) rotate(90) scale(0.9558,1)" font-family="'Liberation Sans', sans-serif" font-size="28.40" fill="#000" stroke="#000" stroke-width="0.3">(111)</text>
<text transform="translate(489.75,683.32) rotate(90) scale(0.9558,1)" font-family="'Liberation Sans', sans-serif" font-size="28.40" fill="#000" stroke="#000" stroke-width="0.3">(110)</text>
<text transform="translate(628.15,624.12) rotate(90) scale(0.9558,1)" font-family="'Liberation Sans', sans-serif" font-size="28.40" fill="#000" stroke="#000" stroke-width="0.3">(200)</text>
<text transform="translate(666.20,701.62) rotate(90) scale(0.9558,1)" font-family="'Liberation Sans', sans-serif" font-size="28.40" fill="#000" stroke="#000" stroke-width="0.3">(200)</text>
<text transform="translate(1241.65,711.38) rotate(90) scale(0.9749,1)" font-family="'Liberation Sans', sans-serif" font-size="28.40" fill="#000" stroke="#000" stroke-width="0.3">(220)</text>
<text transform="translate(107.70,504.59) scale(1.0447,1)" font-family="'DejaVu Math TeX Gyre', 'DejaVu Serif', serif" font-size="34.29" fill="#000" stroke="#000" stroke-width="0.3">∇</text>
<text transform="translate(240.33,366.10) scale(1.0187,1)" font-family="'DejaVu Math TeX Gyre', 'DejaVu Serif', serif" font-size="33.33" fill="#000" stroke="#000" stroke-width="0.3">∇</text>
<text transform="translate(302.13,419.13) scale(1.0905,1)" font-family="'DejaVu Math TeX Gyre', 'DejaVu Serif', serif" font-size="31.14" fill="#000" stroke="#000" stroke-width="0.3">∇</text>
<text transform="translate(449.43,45.24) scale(1.0684,1)" font-family="'DejaVu Math TeX Gyre', 'DejaVu Serif', serif" font-size="30.18" fill="#000" stroke="#000" stroke-width="0.3">∇</text>
<text transform="translate(715.61,499.40) scale(1.1119,1)" font-family="'DejaVu Math TeX Gyre', 'DejaVu Serif', serif" font-size="32.92" fill="#000" stroke="#000" stroke-width="0.3">∇</text>
<text transform="translate(809.18,502.60) scale(1.0432,1)" font-family="'DejaVu Math TeX Gyre', 'DejaVu Serif', serif" font-size="33.74" fill="#000" stroke="#000" stroke-width="0.3">∇</text>
<text transform="translate(934.79,446.50) scale(1.0386,1)" font-family="'DejaVu Math TeX Gyre', 'DejaVu Serif', serif" font-size="33.74" fill="#000" stroke="#000" stroke-width="0.3">∇</text>
<text transform="translate(1031.93,496.48) scale(1.0009,1)" font-family="'DejaVu Math TeX Gyre', 'DejaVu Serif', serif" font-size="34.71" fill="#000" stroke="#000" stroke-width="0.3">∇</text>
<text transform="translate(1271.90,480.70) scale(1.0792,1)" font-family="'DejaVu Math TeX Gyre', 'DejaVu Serif', serif" font-size="33.20" fill="#000" stroke="#000" stroke-width="0.3">∇</text>
<text transform="translate(1376.33,493.21) scale(1.0489,1)" font-family="'DejaVu Math TeX Gyre', 'DejaVu Serif', serif" font-size="32.37" fill="#000" stroke="#000" stroke-width="0.3">∇</text>
<text transform="translate(109.83,466.33) scale(1.0084,1)" font-family="'Liberation Serif', serif" font-size="37.95" fill="#fe0000" stroke="#fe0000" stroke-width="0.3">O</text>
<text transform="translate(240.38,288.14) scale(0.9990,1)" font-family="'Liberation Serif', serif" font-size="37.06" fill="#fe0000" stroke="#fe0000" stroke-width="0.3">O</text>
<text transform="translate(411.90,456.35) scale(1.0889,1)" font-family="'Liberation Serif', serif" font-size="35.72" fill="#fe0000" stroke="#fe0000" stroke-width="0.3">O</text>
<text transform="translate(646.77,438.64) scale(1.0239,1)" font-family="'Liberation Serif', serif" font-size="36.47" fill="#fe0000" stroke="#fe0000" stroke-width="0.3">O</text>
<text transform="translate(974.96,444.44) scale(1.0036,1)" font-family="'Liberation Serif', serif" font-size="37.36" fill="#fe0000" stroke="#fe0000" stroke-width="0.3">O</text>
<text transform="translate(1271.44,449.53) scale(1.0163,1)" font-family="'Liberation Serif', serif" font-size="37.51" fill="#fe0000" stroke="#fe0000" stroke-width="0.3">O</text>
<text transform="translate(244.24,321.90) scale(0.8592,1)" font-family="'Liberation Sans', sans-serif" font-size="41.08" fill="#000" stroke="#000" stroke-width="0.5">#</text>
<text transform="translate(433.54,108.60) scale(0.9441,1)" font-family="'Liberation Sans', sans-serif" font-size="38.74" fill="#000" stroke="#000" stroke-width="0.5">#</text>
<text transform="translate(903.04,468.40) scale(0.9195,1)" font-family="'Liberation Sans', sans-serif" font-size="39.18" fill="#000" stroke="#000" stroke-width="0.5">#</text>
<text transform="translate(311.37,384.30) scale(0.9300,1)" font-family="'Liberation Sans', sans-serif" font-size="36.41" fill="#000" stroke="#000" stroke-width="0.3">◊</text>
<text transform="translate(436.84,156.70) scale(0.9220,1)" font-family="'Liberation Sans', sans-serif" font-size="44.52" fill="#000" stroke="#000" stroke-width="0.3">◊</text>
<text transform="translate(960.26,409.00) scale(0.8863,1)" font-family="'Liberation Sans', sans-serif" font-size="39.82" fill="#000" stroke="#000" stroke-width="0.3">◊</text>
<text transform="translate(1276.07,413.00) scale(0.8962,1)" font-family="'Liberation Sans', sans-serif" font-size="36.41" fill="#000" stroke="#000" stroke-width="0.3">◊</text>
<text transform="translate(1382.37,456.90) scale(0.9074,1)" font-family="'Liberation Sans', sans-serif" font-size="36.41" fill="#000" stroke="#000" stroke-width="0.3">◊</text>
<text transform="translate(432.07,774.20) scale(0.9255,1)" font-family="'Liberation Sans', sans-serif" font-size="35.70" fill="#000" stroke="#000" stroke-width="0.3">◊</text>
<text transform="translate(416.48,560.90) scale(1.0802,1)" font-family="'Liberation Sans', sans-serif" font-size="35.59" fill="#000" stroke="#000" stroke-width="0.3">♥</text>
<text transform="translate(473.70,676.42) scale(1.1302,1)" font-family="'Liberation Sans', sans-serif" font-size="33.84" fill="#000" stroke="#000" stroke-width="0.3">♥</text>
<text transform="translate(630.72,705.61) scale(1.1542,1)" font-family="'Liberation Sans', sans-serif" font-size="34.37" fill="#000" stroke="#000" stroke-width="0.3">♥</text>
<text transform="translate(665.31,790.21) scale(1.1542,1)" font-family="'Liberation Sans', sans-serif" font-size="34.54" fill="#000" stroke="#000" stroke-width="0.3">♥</text>
<text transform="translate(1241.94,800.72) scale(1.1542,1)" font-family="'Liberation Sans', sans-serif" font-size="34.02" fill="#000" stroke="#000" stroke-width="0.3">♥</text>
<text transform="translate(1287.34,791.52) scale(1.1482,1)" font-family="'Liberation Sans', sans-serif" font-size="34.19" fill="#000" stroke="#000" stroke-width="0.3">♥</text>
<text transform="translate(449.45,564.50) scale(0.8832,1)" font-family="'Liberation Serif', serif" font-size="38.18" fill="#000" stroke="#000" stroke-width="0.3">*</text>
<text transform="translate(632.34,752.66) scale(0.8772,1)" font-family="'Liberation Serif', serif" font-size="38.72" fill="#000" stroke="#000" stroke-width="0.3">*</text>
<text transform="translate(1244.62,844.42) scale(0.9092,1)" font-family="'Liberation Serif', serif" font-size="37.91" fill="#000" stroke="#000" stroke-width="0.3">*</text>
<text transform="translate(469.82,557.80) scale(1.1042,1)" font-family="'Liberation Sans', sans-serif" font-size="33.15" fill="#000" stroke="#000" stroke-width="0.3">♦</text>
<text transform="translate(477.92,770.90) scale(1.1758,1)" font-family="'Liberation Sans', sans-serif" font-size="33.58" fill="#000" stroke="#000" stroke-width="0.4">Δ</text>
<text transform="translate(662.87,827.70) scale(1.0846,1)" font-family="'Liberation Sans', sans-serif" font-size="34.88" fill="#000" stroke="#000" stroke-width="0.4">Δ</text>
<text transform="translate(1287.14,836.30) scale(1.0312,1)" font-family="'Liberation Sans', sans-serif" font-size="37.65" fill="#000" stroke="#000" stroke-width="0.4">Δ</text>
</svg>
</body></html>
